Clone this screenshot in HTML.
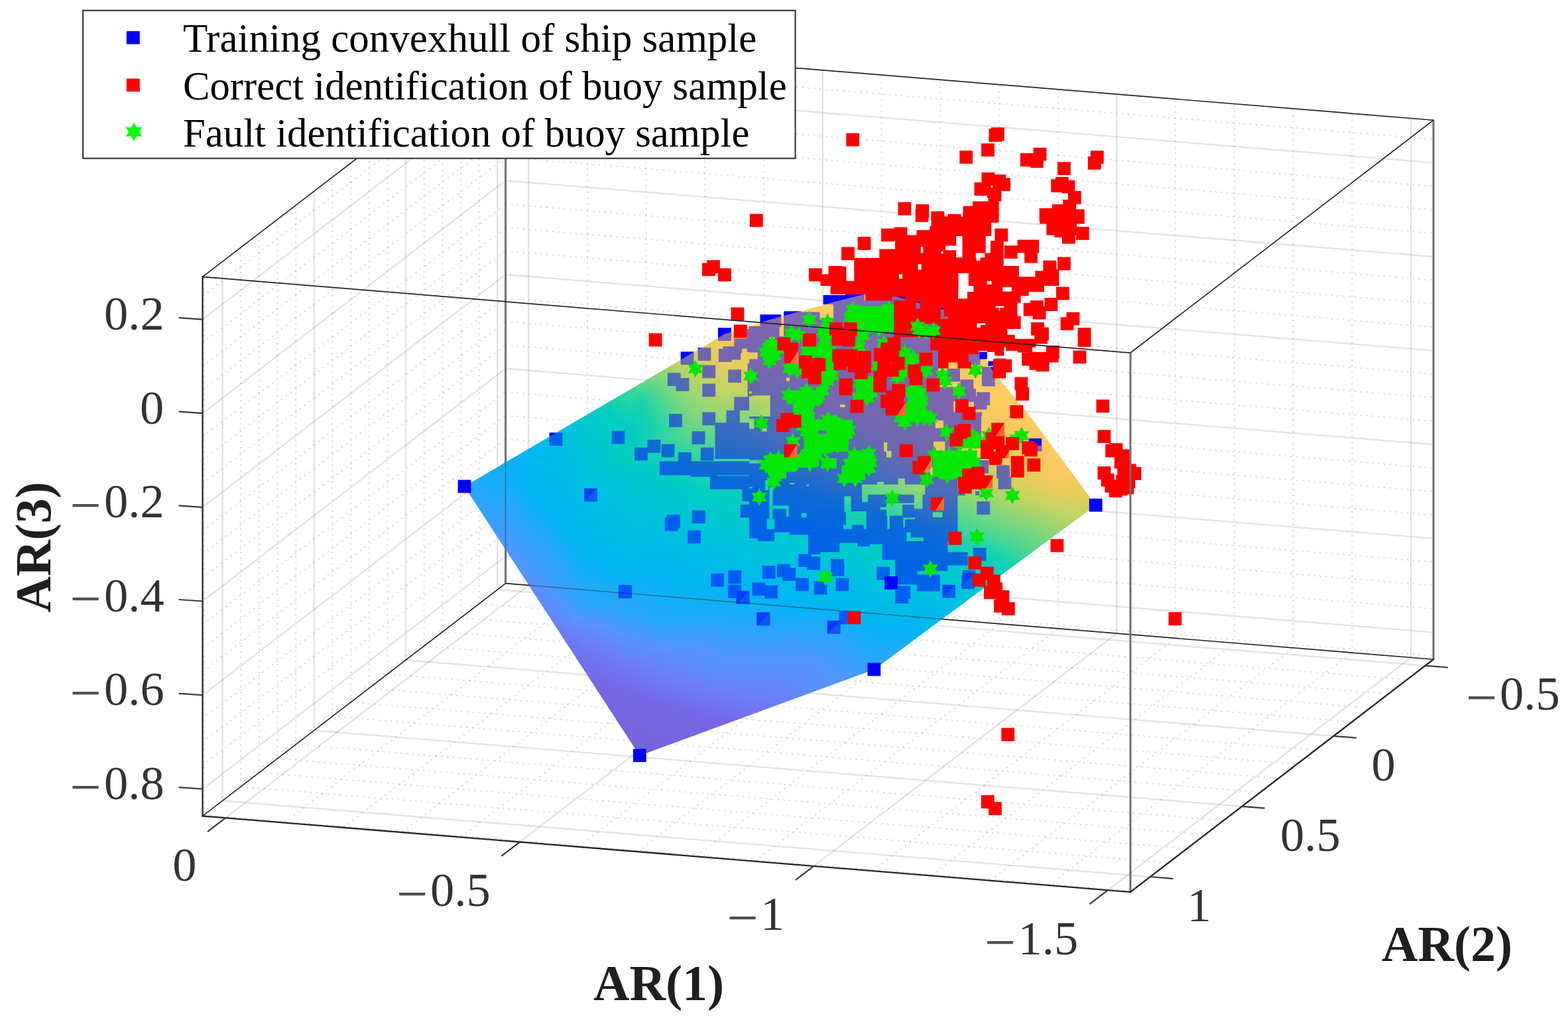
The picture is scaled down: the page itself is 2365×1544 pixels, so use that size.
<!DOCTYPE html>
<html lang="en">
<head>
<meta charset="utf-8">
<title>AR coefficient feature space: ship convex hull vs. buoy samples</title>
<style>
html,body{margin:0;padding:0;background:#fff;}
body{width:2365px;height:1544px;overflow:hidden;font-family:"Liberation Serif",serif;}
svg{display:block;}
.gm{stroke:#8c8c8c;stroke-opacity:.36;stroke-width:2;stroke-dasharray:2 6.8;fill:none}
.gM{stroke:#262626;stroke-opacity:.13;stroke-width:2.4;fill:none}
.bx{stroke:#242424;stroke-width:1.7;fill:none;stroke-linecap:square}
.bv{stroke:#6e6e6e;stroke-width:3;fill:none;stroke-linecap:butt}
.ax{stroke:#262626;stroke-width:2.3;fill:none;stroke-linecap:square}
.tk{stroke:#3a3a3a;stroke-width:2.2;fill:none}
.mb{fill:#0000ff}
.mr{fill:#ff0000}
.mg{fill:#04e604}
.mw{fill:#fff}
text{font-family:"Liberation Serif",serif;fill:#1a1a1a}
.tl{fill:#333}
.al{font-weight:bold;fill:#1f1f1f}
.lg{fill:#000}
</style>
</head>
<body>
<svg width="2365" height="1544" viewBox="0 0 2365 1544" role="img" aria-label="3D scatter of AR(1), AR(2), AR(3) features">
<rect width="2365" height="1544" fill="#fff"/>
<g id="grid-minor">
<line class="gm" x1="2039.3" y1="984.2" x2="2039.3" y2="171.2"/>
<line class="gm" x1="1582.3" y1="1335" x2="2039.3" y2="984.2"/>
<line class="gm" x1="1950.6" y1="976.9" x2="1950.6" y2="163.9"/>
<line class="gm" x1="1493.6" y1="1327.7" x2="1950.6" y2="976.9"/>
<line class="gm" x1="1861.9" y1="969.6" x2="1861.9" y2="156.6"/>
<line class="gm" x1="1404.9" y1="1320.4" x2="1861.9" y2="969.6"/>
<line class="gm" x1="1773.1" y1="962.4" x2="1773.1" y2="149.4"/>
<line class="gm" x1="1316.1" y1="1313.2" x2="1773.1" y2="962.4"/>
<line class="gm" x1="1595.7" y1="947.8" x2="1595.7" y2="134.8"/>
<line class="gm" x1="1138.7" y1="1298.6" x2="1595.7" y2="947.8"/>
<line class="gm" x1="1507" y1="940.6" x2="1507" y2="127.6"/>
<line class="gm" x1="1050" y1="1291.4" x2="1507" y2="940.6"/>
<line class="gm" x1="1418.3" y1="933.3" x2="1418.3" y2="120.3"/>
<line class="gm" x1="961.3" y1="1284.1" x2="1418.3" y2="933.3"/>
<line class="gm" x1="1329.6" y1="926" x2="1329.6" y2="113"/>
<line class="gm" x1="872.6" y1="1276.8" x2="1329.6" y2="926"/>
<line class="gm" x1="1152.2" y1="911.5" x2="1152.2" y2="98.5"/>
<line class="gm" x1="695.2" y1="1262.3" x2="1152.2" y2="911.5"/>
<line class="gm" x1="1063.4" y1="904.2" x2="1063.4" y2="91.2"/>
<line class="gm" x1="606.4" y1="1255" x2="1063.4" y2="904.2"/>
<line class="gm" x1="974.7" y1="897" x2="974.7" y2="84"/>
<line class="gm" x1="517.7" y1="1247.8" x2="974.7" y2="897"/>
<line class="gm" x1="886" y1="889.7" x2="886" y2="76.7"/>
<line class="gm" x1="429" y1="1240.5" x2="886" y2="889.7"/>
<line class="gm" x1="722.6" y1="910.3" x2="722.6" y2="97.3"/>
<line class="gm" x1="722.6" y1="910.3" x2="2122" y2="1024.9"/>
<line class="gm" x1="694.9" y1="931.6" x2="694.9" y2="118.6"/>
<line class="gm" x1="694.9" y1="931.6" x2="2094.3" y2="1046.2"/>
<line class="gm" x1="667.3" y1="952.8" x2="667.3" y2="139.8"/>
<line class="gm" x1="667.3" y1="952.8" x2="2066.7" y2="1067.4"/>
<line class="gm" x1="639.6" y1="974" x2="639.6" y2="161"/>
<line class="gm" x1="639.6" y1="974" x2="2039" y2="1088.6"/>
<line class="gm" x1="584.4" y1="1016.4" x2="584.4" y2="203.4"/>
<line class="gm" x1="584.4" y1="1016.4" x2="1983.8" y2="1131"/>
<line class="gm" x1="556.7" y1="1037.6" x2="556.7" y2="224.6"/>
<line class="gm" x1="556.7" y1="1037.6" x2="1956.1" y2="1152.2"/>
<line class="gm" x1="529.1" y1="1058.9" x2="529.1" y2="245.9"/>
<line class="gm" x1="529.1" y1="1058.9" x2="1928.5" y2="1173.5"/>
<line class="gm" x1="501.4" y1="1080.1" x2="501.4" y2="267.1"/>
<line class="gm" x1="501.4" y1="1080.1" x2="1900.8" y2="1194.7"/>
<line class="gm" x1="446.2" y1="1122.5" x2="446.2" y2="309.5"/>
<line class="gm" x1="446.2" y1="1122.5" x2="1845.6" y2="1237.1"/>
<line class="gm" x1="418.5" y1="1143.7" x2="418.5" y2="330.7"/>
<line class="gm" x1="418.5" y1="1143.7" x2="1817.9" y2="1258.3"/>
<line class="gm" x1="390.9" y1="1164.9" x2="390.9" y2="351.9"/>
<line class="gm" x1="390.9" y1="1164.9" x2="1790.3" y2="1279.5"/>
<line class="gm" x1="363.2" y1="1186.2" x2="363.2" y2="373.2"/>
<line class="gm" x1="363.2" y1="1186.2" x2="1762.6" y2="1300.8"/>
<line class="gm" x1="308" y1="1228.6" x2="308" y2="415.6"/>
<line class="gm" x1="308" y1="1228.6" x2="1707.4" y2="1343.2"/>
<line class="gm" x1="305.6" y1="1225.1" x2="762.6" y2="874.3"/>
<line class="gm" x1="762.6" y1="874.3" x2="2162" y2="988.9"/>
<line class="gm" x1="305.6" y1="1154.3" x2="762.6" y2="803.5"/>
<line class="gm" x1="762.6" y1="803.5" x2="2162" y2="918.1"/>
<line class="gm" x1="305.6" y1="1118.9" x2="762.6" y2="768.1"/>
<line class="gm" x1="762.6" y1="768.1" x2="2162" y2="882.7"/>
<line class="gm" x1="305.6" y1="1083.5" x2="762.6" y2="732.7"/>
<line class="gm" x1="762.6" y1="732.7" x2="2162" y2="847.3"/>
<line class="gm" x1="305.6" y1="1012.7" x2="762.6" y2="661.9"/>
<line class="gm" x1="762.6" y1="661.9" x2="2162" y2="776.5"/>
<line class="gm" x1="305.6" y1="977.3" x2="762.6" y2="626.5"/>
<line class="gm" x1="762.6" y1="626.5" x2="2162" y2="741.1"/>
<line class="gm" x1="305.6" y1="941.9" x2="762.6" y2="591.1"/>
<line class="gm" x1="762.6" y1="591.1" x2="2162" y2="705.7"/>
<line class="gm" x1="305.6" y1="871.1" x2="762.6" y2="520.3"/>
<line class="gm" x1="762.6" y1="520.3" x2="2162" y2="634.9"/>
<line class="gm" x1="305.6" y1="835.7" x2="762.6" y2="484.9"/>
<line class="gm" x1="762.6" y1="484.9" x2="2162" y2="599.5"/>
<line class="gm" x1="305.6" y1="800.2" x2="762.6" y2="449.4"/>
<line class="gm" x1="762.6" y1="449.4" x2="2162" y2="564"/>
<line class="gm" x1="305.6" y1="729.4" x2="762.6" y2="378.6"/>
<line class="gm" x1="762.6" y1="378.6" x2="2162" y2="493.2"/>
<line class="gm" x1="305.6" y1="694" x2="762.6" y2="343.2"/>
<line class="gm" x1="762.6" y1="343.2" x2="2162" y2="457.8"/>
<line class="gm" x1="305.6" y1="658.6" x2="762.6" y2="307.8"/>
<line class="gm" x1="762.6" y1="307.8" x2="2162" y2="422.4"/>
<line class="gm" x1="305.6" y1="587.8" x2="762.6" y2="237"/>
<line class="gm" x1="762.6" y1="237" x2="2162" y2="351.6"/>
<line class="gm" x1="305.6" y1="552.4" x2="762.6" y2="201.6"/>
<line class="gm" x1="762.6" y1="201.6" x2="2162" y2="316.2"/>
<line class="gm" x1="305.6" y1="517" x2="762.6" y2="166.2"/>
<line class="gm" x1="762.6" y1="166.2" x2="2162" y2="280.8"/>
<line class="gm" x1="305.6" y1="446.2" x2="762.6" y2="95.4"/>
<line class="gm" x1="762.6" y1="95.4" x2="2162" y2="210"/>
</g>
<g id="grid-major">
<line class="gM" x1="797.3" y1="882.4" x2="797.3" y2="69.4"/>
<line class="gM" x1="340.3" y1="1233.2" x2="797.3" y2="882.4"/>
<line class="gM" x1="1240.9" y1="918.8" x2="1240.9" y2="105.8"/>
<line class="gM" x1="783.9" y1="1269.6" x2="1240.9" y2="918.8"/>
<line class="gM" x1="1684.4" y1="955.1" x2="1684.4" y2="142.1"/>
<line class="gM" x1="1227.4" y1="1305.9" x2="1684.4" y2="955.1"/>
<line class="gM" x1="2128" y1="991.4" x2="2128" y2="178.4"/>
<line class="gM" x1="1671" y1="1342.2" x2="2128" y2="991.4"/>
<line class="gM" x1="750.2" y1="889.1" x2="750.2" y2="76.1"/>
<line class="gM" x1="750.2" y1="889.1" x2="2149.6" y2="1003.7"/>
<line class="gM" x1="612" y1="995.2" x2="612" y2="182.2"/>
<line class="gM" x1="612" y1="995.2" x2="2011.4" y2="1109.8"/>
<line class="gM" x1="473.8" y1="1101.3" x2="473.8" y2="288.3"/>
<line class="gM" x1="473.8" y1="1101.3" x2="1873.2" y2="1215.9"/>
<line class="gM" x1="335.6" y1="1207.4" x2="335.6" y2="394.4"/>
<line class="gM" x1="335.6" y1="1207.4" x2="1735" y2="1322"/>
<line class="gM" x1="305.6" y1="481.6" x2="762.6" y2="130.8"/>
<line class="gM" x1="762.6" y1="130.8" x2="2162" y2="245.4"/>
<line class="gM" x1="305.6" y1="623.2" x2="762.6" y2="272.4"/>
<line class="gM" x1="762.6" y1="272.4" x2="2162" y2="387"/>
<line class="gM" x1="305.6" y1="764.8" x2="762.6" y2="414"/>
<line class="gM" x1="762.6" y1="414" x2="2162" y2="528.6"/>
<line class="gM" x1="305.6" y1="906.5" x2="762.6" y2="555.7"/>
<line class="gM" x1="762.6" y1="555.7" x2="2162" y2="670.3"/>
<line class="gM" x1="305.6" y1="1048.1" x2="762.6" y2="697.3"/>
<line class="gM" x1="762.6" y1="697.3" x2="2162" y2="811.9"/>
<line class="gM" x1="305.6" y1="1189.7" x2="762.6" y2="838.9"/>
<line class="gM" x1="762.6" y1="838.9" x2="2162" y2="953.5"/>
</g>
<g id="box-back">
<line class="bx" x1="305.6" y1="1230.4" x2="762.6" y2="879.6"/>
<line class="bx" x1="762.6" y1="879.6" x2="2162" y2="994.2"/>
<line class="bx" x1="762.6" y1="66.6" x2="2162" y2="181.2"/>
<line class="bx" x1="305.6" y1="417.4" x2="762.6" y2="66.6"/>
<line class="bv" x1="762.6" y1="879.6" x2="762.6" y2="66.6"/>
<line class="bv" x1="2162" y1="994.2" x2="2162" y2="181.2"/>
</g>
<g id="ship-inside" class="mb" fill-rule="evenodd">
<path d="M1052.6 544.1L1072.4 544.1L1072.4 524.3L1052.6 524.3zM1026.7 550L1046.5 550L1046.5 530.2L1026.7 530.2zM1059.3 570.3L1079.1 570.3L1079.1 550.5L1059.3 550.5zM1006.9 582.1L1019.6 582.1L1019.6 589.7L1039.4 589.7L1039.4 569.9L1026.7 569.9L1026.7 562.3L1006.9 562.3zM1009.1 643.9L1028.9 643.9L1028.9 624.1L1009.1 624.1zM922.5 649.7L922.5 669.5L942.3 669.5L942.3 649.7zM1063.4 670.1L1063.4 650.3L1043.6 650.3L1043.6 670.1zM828.6 652.3L828.6 672.1L848.4 672.1L848.4 652.3zM957 694.6L976.8 694.6L976.8 682.8L996.3 682.8L996.3 663L976.5 663L976.5 674.8L957 674.8zM1017.4 669.7L997.6 669.7L997.6 689.5L1017.4 689.5zM1056.8 674.8L1056.8 694.6L1076.6 694.6L1076.6 674.8zM881.1 736.6L881.1 756.4L900.9 756.4L900.9 736.6zM1043.6 789L1063.9 789.3L1063.9 769.5L1043.6 769.2zM1006.1 776L1006.1 777.4L1004.7 777.4L1004.7 781L1002.7 781L1002.7 800.8L1022.5 800.8L1022.5 797.2L1024.5 797.2L1024.5 795.8L1025.9 795.8L1025.9 776zM1057.1 819.4L1057.2 799.6L1037.4 799.6L1037.3 819.5zM953.1 882.5L952.7 882.5L952.7 882.1L932.9 882.1L932.9 901.9L933.3 901.9L933.3 902.3L953.1 902.3zM1102.8 514L1102.8 494.2L1083 494.2L1083 514zM1118 557.3L1098.2 557.3L1098.2 577.1L1118 577.1zM1059.3 578.4L1059.3 598.2L1079.1 598.2L1079.1 578.4zM1070.9 719.1L1070.9 737.7L1119.4 737.7L1119.4 756L1130 756L1130 760.7L1116.8 760.7L1116.8 780.5L1130 780.5L1130 811.7L1142.7 811.7L1142.7 816L1168.1 816L1168.1 802.8L1190.9 802.8L1190.9 806.6L1218.9 806.6L1218.9 835.2L1203.9 835.2L1203.9 855L1217.5 855L1217.5 859.2L1237.3 859.2L1237.3 839.4L1223.7 839.4L1223.7 835.8L1237.5 835.8L1237.5 832.4L1266.3 832.4L1266.3 818.8L1293.3 818.8L1293.3 823.9L1311.9 823.9L1311.9 820.5L1330.5 820.5L1330.5 844.2L1350 844.2L1350 881.4L1383 881.4L1383 891.6L1417.7 891.6L1417.7 866.2L1383.8 866.2L1383.8 861.1L1429.5 861.1L1429.5 852.4L1459.7 852.4L1459.7 832.6L1429.5 832.6L1429.5 816L1444.4 816L1444.4 747L1455.9 747L1455.9 740.6L1444.4 740.6L1444.4 675.9L1480 675.9L1480 628L1481.2 628L1481.2 621.5L1438.1 621.5L1438.1 605L1452.3 605L1452.3 606.1L1468.8 606.1L1468.8 617.5L1488.6 617.5L1488.6 611.1L1493.1 611.1L1493.1 591.3L1473.3 591.3L1473.3 597.7L1472.1 597.7L1472.1 586.3L1468.3 586.3L1468.3 572.3L1448.5 572.3L1448.5 592.1L1452.3 592.3L1438.1 592.3L1438.1 583.5L1415 583.5L1415 452.7L1364.9 452.7L1364.9 447L1345.8 447L1345.8 452.7L1303.9 452.7L1303.9 443.2L1274.7 443.2L1274.7 445.1L1241.7 445.1L1241.7 459L1257 459L1257 481.9L1236.6 481.9L1236.6 470.5L1208.7 470.5L1208.7 469.2L1182.7 469.2L1182.7 470.5L1182.1 470.5L1182.1 507.3L1175.7 507.3L1175.7 493.3L1178.2 493.3L1178.2 474.3L1146.5 474.3L1146.5 492.1L1130 492.1L1130 496.1L1126.7 496.1L1126.7 510.5L1107.3 510.5L1107.3 522.3L1090.4 522.3L1090.4 526L1083.9 526L1083.9 545.8L1103.7 545.8L1103.7 542.4L1117.2 542.4L1117.2 532.5L1119.1 532.5L1119.1 525.7L1126.7 525.7L1126.7 530.8L1130 530.8L1130 531.4L1142.7 531.4L1142.7 541.6L1130 541.6L1130 547.7L1127.6 547.7L1127.6 598.4L1107.3 598.4L1107.3 618.7L1095.5 618.7L1095.5 637.3L1079.1 637.3L1079.1 621.5L1059.3 621.5L1059.3 641.3L1078.5 641.3L1078.5 692L1130 692L1130 693.6L1150.3 693.6L1150.3 698.7L1130 698.7L1130 695.4L1042.8 695.4L1042.8 682.1L1023 682.1L1023 695.4L994.8 695.4L994.8 716.5L1041.3 716.5L1041.3 719.1zM1406.8 780L1406.8 772.3L1421.6 772.3L1421.6 780zM1402.9 719L1402.9 703.8L1415 703.8L1415 719zM1408 683.5L1408 665.7L1425.4 665.7L1425.4 683.5zM1410.6 645.4L1410.6 632.7L1415 632.7L1415 634L1422.9 634L1422.9 645.4zM1135.1 734.3L1135.1 736.2L1130 736.2L1130 734.3zM1130 716.5L1130 717.4L1081.9 717.4L1081.9 716.5zM1161.7 628L1130 628L1130 631.4L1137.6 631.4L1137.6 646.7L1130 646.7L1130 637.3L1115.8 637.3L1115.8 618.7L1130 618.7L1130 597.4L1135.1 597.4L1135.1 596.2L1161.7 596.2zM1133.8 589.8L1133.8 593.6L1130 593.6L1130 589.8zM1168.1 508.6L1168.1 512.4L1160.5 512.4L1160.5 508.6zM1190.9 569.5L1190.9 574.6L1185.9 574.6L1185.9 569.5zM1274.7 610.1L1274.7 613.9L1267.1 613.9L1267.1 610.1zM1392.8 816L1367.4 816L1367.4 802.8L1373.7 802.8L1373.7 810.4L1392.8 810.4zM1149 650.5L1149 645.4L1156.7 645.4L1156.7 650.5zM1190.9 730.4L1190.9 727.9L1198.6 727.9L1198.6 730.4zM1154.1 739.3L1154.1 724.1L1159.2 724.1L1159.2 739.3zM1216.3 733L1216.3 730.4L1220.1 730.4L1220.1 733zM1272.2 797.7L1272.2 791.4L1276 791.4L1276 772.3L1273.5 772.3L1273.5 748.2L1283.6 748.2L1283.6 771.1L1306.5 771.1L1306.5 797.7L1302.7 797.7L1302.7 791.4L1284.9 791.4L1284.9 797.7zM1165.5 734.3L1165.5 762.2L1189.7 762.2L1189.7 778.7L1185.9 778.7L1185.9 767.3L1165.5 767.3L1165.5 782.5L1168.1 782.5L1168.1 797.7L1156.7 797.7L1156.7 782.5L1160.5 782.5L1160.5 734.3zM1208.7 780.6L1208.7 773.6L1216.3 773.6L1216.3 780.6zM1333.1 680.9L1333.1 667L1338.2 667L1338.2 679.7L1344.5 679.7L1344.5 689.8L1336.9 689.8L1336.9 680.9zM1361.1 777.4L1342 777.4L1342 797.7L1338.2 797.7L1338.2 777.4L1336.9 777.4L1336.9 768.5L1328 768.5L1328 764.7L1336.9 764.7L1336.9 758.4L1378.8 758.4L1378.8 745.7L1309 745.7L1309 757.1L1300.1 757.1L1300.1 730.4L1323 730.4L1323 726.6L1333.1 726.6L1333.1 730.4L1354.7 730.4L1354.7 721.6L1364.9 721.6L1364.9 730.4L1395.3 730.4L1395.3 745.7L1391.5 745.7L1391.5 767.3L1378.8 767.3L1378.8 760.9L1361.1 760.9zM1364.9 795.2L1362.3 795.2L1362.3 780.6L1380.1 780.6L1380.1 783.1L1364.9 783.1zM1253.8 868.5L1273.6 868.5L1273.6 848.7L1272.8 848.7L1272.8 842.8L1253 842.8L1253 862.6L1253.8 862.6zM1169.6 872.7L1169.6 852.9L1149.8 852.9L1149.8 872.7zM1342.1 854.6L1322.3 854.6L1322.3 874.4L1342.1 874.4zM1098.4 859.8L1098.2 880.3L1118 880.3L1118.2 859.8zM1180.3 870.2L1180.3 876.1L1200.1 876.1L1200.1 891.3L1219.9 891.3L1219.9 871.5L1200.1 871.5L1200.1 856.3L1191.6 856.3L1191.6 850.4L1171.8 850.4L1171.8 870.2zM1072 864.8L1072 884.8L1091.8 884.8L1091.8 864.8zM1260.6 891.3L1280.4 891.3L1280.4 871.5L1260.6 871.5zM1227.6 896.4L1247.4 896.4L1247.4 876.6L1227.6 876.6zM1173 882.5L1154.4 882.5L1154.4 878.3L1134.6 878.3L1134.6 898.1L1153.2 898.1L1153.2 902.3L1173 902.3zM1130.7 891L1118.2 890.7L1118 881.7L1098.2 881.7L1098.2 901.5L1098.4 901.9L1110.4 901.9L1110.4 910.5L1110.9 910.8L1130.7 910.8z"/>
<path d="M1161.5 943.4L1161.5 923.6L1161.1 923.3L1141.3 923.3L1141.3 943.1L1141.7 943.4zM1247.9 935.8L1247.7 955.8L1267.5 955.8L1267.7 941.2L1285.5 941.2L1285.5 921.4L1265.7 921.4L1265.7 935.8zM1423.5 477.5L1423.5 464.1L1419 464.1L1419 480.6L1429.8 480.6L1429.8 477.5zM1458.7 550.2L1478.5 550.2L1478.5 530.4L1458.7 530.4zM1428.2 555.8L1428.2 575.6L1448 575.6L1448 555.8zM1500.7 553.2L1480.9 553.2L1480.9 582.6L1500.7 582.6zM1551.6 680.7L1571.4 680.7L1571.4 660.9L1551.6 660.9zM1471.3 713.7L1491.1 713.7L1491.1 693.9L1471.3 693.9zM1522.9 718L1522.9 701.5L1503.1 701.5L1503.1 721.3L1505.6 721.3L1505.6 737.8L1525.4 737.8L1525.4 718zM1471.1 747L1477.4 747L1477.4 740.6L1471.1 740.6zM1493.1 775.9L1493.1 756.1L1473.3 756.1L1473.3 775.9zM1467.8 825.9L1467.8 845.7L1487.6 845.7L1487.6 825.9zM1450 868.1L1450 887.9L1469.8 887.9L1469.8 879.5L1471.5 879.5L1471.5 859.7L1451.7 859.7L1451.7 868.1zM1441.1 901.5L1441.1 881.7L1421.3 881.7L1421.3 901.5zM1350.2 909.9L1370 909.9L1370 903.2L1373.4 903.2L1373.4 883.4L1353.6 883.4L1353.6 890.1L1350.2 890.1z"/>
</g>
<defs><linearGradient id="h0" gradientUnits="userSpaceOnUse" x1="902.4" y1="1114.7" x2="1290.6" y2="126.2"><stop offset="0" stop-color="#7562d7"/><stop offset="0.08" stop-color="#7668e8"/></linearGradient><linearGradient id="h1" gradientUnits="userSpaceOnUse" x1="726.1" y1="917.3" x2="975.8" y2="628.2"><stop offset="0.08" stop-color="#7668e8"/><stop offset="0.15" stop-color="#6982fa"/><stop offset="0.22" stop-color="#5596ff"/><stop offset="0.28" stop-color="#2da5ff"/><stop offset="0.34" stop-color="#00b6f2"/></linearGradient><linearGradient id="h2" gradientUnits="userSpaceOnUse" x1="1163" y1="1068.8" x2="1364.5" y2="452.9"><stop offset="0.45" stop-color="#00cdc3"/><stop offset="0.5" stop-color="#1ed4aa"/><stop offset="0.55" stop-color="#5ad78c"/><stop offset="0.6" stop-color="#8cd778"/><stop offset="0.65" stop-color="#bed464"/><stop offset="0.7" stop-color="#e4cd5a"/></linearGradient><linearGradient id="h3" gradientUnits="userSpaceOnUse" x1="1086.2" y1="1039.2" x2="1269.7" y2="427.6"><stop offset="0.45" stop-color="#00cdc3"/><stop offset="0.5" stop-color="#1ed4aa"/><stop offset="0.55" stop-color="#5ad78c"/><stop offset="0.6" stop-color="#8cd778"/><stop offset="0.65" stop-color="#bed464"/><stop offset="0.7" stop-color="#e4cd5a"/></linearGradient><linearGradient id="h4" gradientUnits="userSpaceOnUse" x1="710.6" y1="1191.2" x2="1312.1" y2="179.8"><stop offset="0.22" stop-color="#5596ff"/><stop offset="0.28" stop-color="#2da5ff"/><stop offset="0.34" stop-color="#00b6f2"/><stop offset="0.4" stop-color="#00c3dc"/></linearGradient><linearGradient id="h5" gradientUnits="userSpaceOnUse" x1="657.1" y1="974.2" x2="1300.2" y2="524.4"><stop offset="0.15" stop-color="#6982fa"/><stop offset="0.22" stop-color="#5596ff"/><stop offset="0.28" stop-color="#2da5ff"/><stop offset="0.34" stop-color="#00b6f2"/><stop offset="0.4" stop-color="#00c3dc"/></linearGradient><linearGradient id="h6" gradientUnits="userSpaceOnUse" x1="1002.9" y1="1235.5" x2="1230.2" y2="190.9"><stop offset="0.28" stop-color="#2da5ff"/><stop offset="0.34" stop-color="#00b6f2"/><stop offset="0.4" stop-color="#00c3dc"/><stop offset="0.45" stop-color="#00cdc3"/></linearGradient><linearGradient id="h7" gradientUnits="userSpaceOnUse" x1="1085.6" y1="1254.2" x2="1332.9" y2="212.2"><stop offset="0.28" stop-color="#2da5ff"/><stop offset="0.34" stop-color="#00b6f2"/><stop offset="0.4" stop-color="#00c3dc"/><stop offset="0.45" stop-color="#00cdc3"/></linearGradient><linearGradient id="h8" gradientUnits="userSpaceOnUse" x1="1135.1" y1="1147.7" x2="1566.6" y2="476.5"><stop offset="0.15" stop-color="#6982fa"/><stop offset="0.22" stop-color="#5596ff"/><stop offset="0.28" stop-color="#2da5ff"/><stop offset="0.34" stop-color="#00b6f2"/><stop offset="0.4" stop-color="#00c3dc"/></linearGradient><linearGradient id="h9" gradientUnits="userSpaceOnUse" x1="1268.8" y1="1162.9" x2="1320.6" y2="438.9"><stop offset="0.15" stop-color="#6982fa"/><stop offset="0.22" stop-color="#5596ff"/><stop offset="0.28" stop-color="#2da5ff"/><stop offset="0.34" stop-color="#00b6f2"/><stop offset="0.4" stop-color="#00c3dc"/></linearGradient><linearGradient id="h10" gradientUnits="userSpaceOnUse" x1="1222.7" y1="1066.8" x2="1394.1" y2="479.8"><stop offset="0.45" stop-color="#00cdc3"/><stop offset="0.5" stop-color="#1ed4aa"/><stop offset="0.55" stop-color="#5ad78c"/><stop offset="0.6" stop-color="#8cd778"/></linearGradient><linearGradient id="h11" gradientUnits="userSpaceOnUse" x1="1157.7" y1="1237.2" x2="1509.9" y2="312.4"><stop offset="0.34" stop-color="#00b6f2"/><stop offset="0.4" stop-color="#00c3dc"/><stop offset="0.45" stop-color="#00cdc3"/><stop offset="0.5" stop-color="#1ed4aa"/><stop offset="0.55" stop-color="#5ad78c"/></linearGradient><linearGradient id="h12" gradientUnits="userSpaceOnUse" x1="1082.7" y1="1226.3" x2="1337.1" y2="252.4"><stop offset="0.34" stop-color="#00b6f2"/><stop offset="0.4" stop-color="#00c3dc"/><stop offset="0.45" stop-color="#00cdc3"/><stop offset="0.5" stop-color="#1ed4aa"/></linearGradient><linearGradient id="h13" gradientUnits="userSpaceOnUse" x1="1221.5" y1="1066.7" x2="1400.9" y2="481.5"><stop offset="0.45" stop-color="#00cdc3"/><stop offset="0.5" stop-color="#1ed4aa"/><stop offset="0.55" stop-color="#5ad78c"/><stop offset="0.6" stop-color="#8cd778"/></linearGradient><linearGradient id="h14" gradientUnits="userSpaceOnUse" x1="1196.8" y1="1239.8" x2="1422.2" y2="292.3"><stop offset="0.34" stop-color="#00b6f2"/><stop offset="0.4" stop-color="#00c3dc"/><stop offset="0.45" stop-color="#00cdc3"/><stop offset="0.5" stop-color="#1ed4aa"/><stop offset="0.55" stop-color="#5ad78c"/></linearGradient><linearGradient id="h15" gradientUnits="userSpaceOnUse" x1="1021.8" y1="1105.4" x2="1309.2" y2="387"><stop offset="0.6" stop-color="#8cd778"/><stop offset="0.65" stop-color="#bed464"/><stop offset="0.7" stop-color="#e4cd5a"/><stop offset="0.75" stop-color="#fac85f"/><stop offset="0.8" stop-color="#fed064"/></linearGradient><linearGradient id="h16" gradientUnits="userSpaceOnUse" x1="638.2" y1="1045.3" x2="1062.5" y2="59.9"><stop offset="0.15" stop-color="#6982fa"/><stop offset="0.22" stop-color="#5596ff"/><stop offset="0.28" stop-color="#2da5ff"/><stop offset="0.34" stop-color="#00b6f2"/></linearGradient><linearGradient id="h17" gradientUnits="userSpaceOnUse" x1="594.3" y1="891" x2="1155.9" y2="388"><stop offset="0.15" stop-color="#6982fa"/><stop offset="0.22" stop-color="#5596ff"/><stop offset="0.28" stop-color="#2da5ff"/><stop offset="0.34" stop-color="#00b6f2"/><stop offset="0.4" stop-color="#00c3dc"/></linearGradient><linearGradient id="h18" gradientUnits="userSpaceOnUse" x1="440.4" y1="1254.1" x2="1711.8" y2="-7.1"><stop offset="0.28" stop-color="#2da5ff"/><stop offset="0.34" stop-color="#00b6f2"/><stop offset="0.4" stop-color="#00c3dc"/></linearGradient><linearGradient id="h19" gradientUnits="userSpaceOnUse" x1="361.9" y1="1006.6" x2="1722.7" y2="278.8"><stop offset="0.28" stop-color="#2da5ff"/><stop offset="0.34" stop-color="#00b6f2"/><stop offset="0.4" stop-color="#00c3dc"/></linearGradient><linearGradient id="h20" gradientUnits="userSpaceOnUse" x1="394" y1="991.5" x2="1581.5" y2="174.3"><stop offset="0.28" stop-color="#2da5ff"/><stop offset="0.34" stop-color="#00b6f2"/><stop offset="0.4" stop-color="#00c3dc"/></linearGradient><linearGradient id="h21" gradientUnits="userSpaceOnUse" x1="1024.7" y1="1248.1" x2="1239.4" y2="178.7"><stop offset="0.22" stop-color="#5596ff"/><stop offset="0.28" stop-color="#2da5ff"/><stop offset="0.34" stop-color="#00b6f2"/><stop offset="0.4" stop-color="#00c3dc"/></linearGradient><linearGradient id="h22" gradientUnits="userSpaceOnUse" x1="950.6" y1="1135.3" x2="1240.4" y2="80.3"><stop offset="0" stop-color="#7562d7"/><stop offset="0.08" stop-color="#7668e8"/></linearGradient><linearGradient id="h23" gradientUnits="userSpaceOnUse" x1="888.8" y1="1097.8" x2="1267.6" y2="329.9"><stop offset="0" stop-color="#7562d7"/><stop offset="0.08" stop-color="#7668e8"/><stop offset="0.15" stop-color="#6982fa"/></linearGradient><linearGradient id="h24" gradientUnits="userSpaceOnUse" x1="907.8" y1="1107.6" x2="1176.7" y2="276"><stop offset="0" stop-color="#7562d7"/><stop offset="0.08" stop-color="#7668e8"/><stop offset="0.15" stop-color="#6982fa"/></linearGradient><linearGradient id="h25" gradientUnits="userSpaceOnUse" x1="895" y1="1088.6" x2="1225.6" y2="391.6"><stop offset="0" stop-color="#7562d7"/><stop offset="0.08" stop-color="#7668e8"/><stop offset="0.15" stop-color="#6982fa"/><stop offset="0.22" stop-color="#5596ff"/></linearGradient><linearGradient id="h26" gradientUnits="userSpaceOnUse" x1="1098.3" y1="1189" x2="1791.5" y2="414.7"><stop offset="0.15" stop-color="#6982fa"/><stop offset="0.22" stop-color="#5596ff"/><stop offset="0.28" stop-color="#2da5ff"/><stop offset="0.34" stop-color="#00b6f2"/></linearGradient><linearGradient id="h27" gradientUnits="userSpaceOnUse" x1="1077.5" y1="1170.3" x2="1770.7" y2="396.1"><stop offset="0.08" stop-color="#7668e8"/><stop offset="0.15" stop-color="#6982fa"/><stop offset="0.22" stop-color="#5596ff"/><stop offset="0.28" stop-color="#2da5ff"/></linearGradient><linearGradient id="h28" gradientUnits="userSpaceOnUse" x1="1195.8" y1="1267.6" x2="1445.1" y2="260.6"><stop offset="0.22" stop-color="#5596ff"/><stop offset="0.28" stop-color="#2da5ff"/><stop offset="0.34" stop-color="#00b6f2"/><stop offset="0.4" stop-color="#00c3dc"/></linearGradient><linearGradient id="h29" gradientUnits="userSpaceOnUse" x1="1370.8" y1="1269.3" x2="1279.9" y2="296.9"><stop offset="0.22" stop-color="#5596ff"/><stop offset="0.28" stop-color="#2da5ff"/><stop offset="0.34" stop-color="#00b6f2"/><stop offset="0.4" stop-color="#00c3dc"/></linearGradient><linearGradient id="h30" gradientUnits="userSpaceOnUse" x1="1249.2" y1="1244.9" x2="1505.7" y2="342.3"><stop offset="0.28" stop-color="#2da5ff"/><stop offset="0.34" stop-color="#00b6f2"/><stop offset="0.4" stop-color="#00c3dc"/><stop offset="0.45" stop-color="#00cdc3"/><stop offset="0.5" stop-color="#1ed4aa"/><stop offset="0.55" stop-color="#5ad78c"/></linearGradient><linearGradient id="h31" gradientUnits="userSpaceOnUse" x1="1332" y1="1166.1" x2="1556.6" y2="462.1"><stop offset="0.34" stop-color="#00b6f2"/><stop offset="0.4" stop-color="#00c3dc"/><stop offset="0.45" stop-color="#00cdc3"/><stop offset="0.5" stop-color="#1ed4aa"/><stop offset="0.55" stop-color="#5ad78c"/></linearGradient><linearGradient id="h32" gradientUnits="userSpaceOnUse" x1="1434.3" y1="1230.5" x2="1436.2" y2="369.6"><stop offset="0.28" stop-color="#2da5ff"/><stop offset="0.34" stop-color="#00b6f2"/><stop offset="0.4" stop-color="#00c3dc"/><stop offset="0.45" stop-color="#00cdc3"/><stop offset="0.5" stop-color="#1ed4aa"/><stop offset="0.55" stop-color="#5ad78c"/></linearGradient><linearGradient id="h33" gradientUnits="userSpaceOnUse" x1="1339" y1="1226.5" x2="1339" y2="376.5"><stop offset="0.28" stop-color="#2da5ff"/><stop offset="0.34" stop-color="#00b6f2"/><stop offset="0.4" stop-color="#00c3dc"/></linearGradient><linearGradient id="h34" gradientUnits="userSpaceOnUse" x1="1395.4" y1="1186.8" x2="1502.4" y2="444.1"><stop offset="0.34" stop-color="#00b6f2"/><stop offset="0.4" stop-color="#00c3dc"/><stop offset="0.45" stop-color="#00cdc3"/><stop offset="0.5" stop-color="#1ed4aa"/><stop offset="0.55" stop-color="#5ad78c"/></linearGradient><linearGradient id="h35" gradientUnits="userSpaceOnUse" x1="1341.2" y1="1058.3" x2="1548.3" y2="557.8"><stop offset="0.4" stop-color="#00c3dc"/><stop offset="0.45" stop-color="#00cdc3"/><stop offset="0.5" stop-color="#1ed4aa"/><stop offset="0.55" stop-color="#5ad78c"/></linearGradient><linearGradient id="h36" gradientUnits="userSpaceOnUse" x1="1534.6" y1="1185.9" x2="1640.5" y2="555.5"><stop offset="0.55" stop-color="#5ad78c"/><stop offset="0.6" stop-color="#8cd778"/><stop offset="0.65" stop-color="#bed464"/><stop offset="0.7" stop-color="#e4cd5a"/></linearGradient><linearGradient id="h37" gradientUnits="userSpaceOnUse" x1="1418.7" y1="1119.2" x2="1693.2" y2="587"><stop offset="0.55" stop-color="#5ad78c"/><stop offset="0.6" stop-color="#8cd778"/><stop offset="0.65" stop-color="#bed464"/><stop offset="0.7" stop-color="#e4cd5a"/></linearGradient><linearGradient id="h38" gradientUnits="userSpaceOnUse" x1="1491.6" y1="1111.1" x2="1638.5" y2="585.5"><stop offset="0.55" stop-color="#5ad78c"/><stop offset="0.6" stop-color="#8cd778"/><stop offset="0.65" stop-color="#bed464"/><stop offset="0.7" stop-color="#e4cd5a"/><stop offset="0.75" stop-color="#fac85f"/><stop offset="0.8" stop-color="#fed064"/></linearGradient><linearGradient id="h39" gradientUnits="userSpaceOnUse" x1="1206.7" y1="1387.7" x2="1326.3" y2="300.9"><stop offset="0.65" stop-color="#bed464"/><stop offset="0.7" stop-color="#e4cd5a"/><stop offset="0.75" stop-color="#fac85f"/><stop offset="0.8" stop-color="#fed064"/><stop offset="1" stop-color="#fed764"/></linearGradient><linearGradient id="h40" gradientUnits="userSpaceOnUse" x1="1015.3" y1="1329.7" x2="1264.9" y2="289.6"><stop offset="0.65" stop-color="#bed464"/><stop offset="0.7" stop-color="#e4cd5a"/><stop offset="0.75" stop-color="#fac85f"/><stop offset="0.8" stop-color="#fed064"/></linearGradient><linearGradient id="h41" gradientUnits="userSpaceOnUse" x1="-60" y1="1605.5" x2="1605.8" y2="150.4"><stop offset="0.7" stop-color="#e4cd5a"/><stop offset="0.75" stop-color="#fac85f"/><stop offset="0.8" stop-color="#fed064"/><stop offset="1" stop-color="#fed764"/></linearGradient><linearGradient id="h42" gradientUnits="userSpaceOnUse" x1="-566.9" y1="2899.5" x2="1826.5" y2="-125.5"><stop offset="0.75" stop-color="#fac85f"/><stop offset="0.8" stop-color="#fed064"/><stop offset="1" stop-color="#fed764"/></linearGradient><linearGradient id="h43" gradientUnits="userSpaceOnUse" x1="-279.2" y1="6310.1" x2="1754.2" y2="-1019.4"><stop offset="0.75" stop-color="#fac85f"/><stop offset="0.8" stop-color="#fed064"/><stop offset="1" stop-color="#fed764"/></linearGradient><linearGradient id="h44" gradientUnits="userSpaceOnUse" x1="1132.1" y1="4281.1" x2="1401.4" y2="-512.2"><stop offset="0.75" stop-color="#fac85f"/><stop offset="0.8" stop-color="#fed064"/><stop offset="1" stop-color="#fed764"/></linearGradient><linearGradient id="h45" gradientUnits="userSpaceOnUse" x1="-831" y1="4015.7" x2="1901.1" y2="-440.3"><stop offset="0.75" stop-color="#fac85f"/><stop offset="0.8" stop-color="#fed064"/><stop offset="1" stop-color="#fed764"/></linearGradient><linearGradient id="h46" gradientUnits="userSpaceOnUse" x1="2244.4" y1="5794.2" x2="1220.1" y2="-863.6"><stop offset="0.75" stop-color="#fac85f"/><stop offset="0.8" stop-color="#fed064"/><stop offset="1" stop-color="#fed764"/></linearGradient><linearGradient id="h47" gradientUnits="userSpaceOnUse" x1="1194" y1="1032" x2="1460.7" y2="529"><stop offset="0.5" stop-color="#1ed4aa"/><stop offset="0.55" stop-color="#5ad78c"/><stop offset="0.6" stop-color="#8cd778"/><stop offset="0.65" stop-color="#bed464"/><stop offset="0.7" stop-color="#e4cd5a"/></linearGradient><linearGradient id="h48" gradientUnits="userSpaceOnUse" x1="1154.1" y1="1328.9" x2="1531.1" y2="396.2"><stop offset="0.6" stop-color="#8cd778"/><stop offset="0.65" stop-color="#bed464"/><stop offset="0.7" stop-color="#e4cd5a"/><stop offset="0.75" stop-color="#fac85f"/></linearGradient><linearGradient id="h49" gradientUnits="userSpaceOnUse" x1="1223.9" y1="1017.5" x2="1399" y2="520.2"><stop offset="0.45" stop-color="#00cdc3"/><stop offset="0.5" stop-color="#1ed4aa"/><stop offset="0.55" stop-color="#5ad78c"/><stop offset="0.6" stop-color="#8cd778"/><stop offset="0.65" stop-color="#bed464"/><stop offset="0.7" stop-color="#e4cd5a"/></linearGradient><linearGradient id="h50" gradientUnits="userSpaceOnUse" x1="842.3" y1="1430.5" x2="1548.3" y2="303.3"><stop offset="0.65" stop-color="#bed464"/><stop offset="0.7" stop-color="#e4cd5a"/><stop offset="0.75" stop-color="#fac85f"/><stop offset="0.8" stop-color="#fed064"/><stop offset="1" stop-color="#fed764"/></linearGradient><linearGradient id="h51" gradientUnits="userSpaceOnUse" x1="1093.3" y1="1403.3" x2="1542.9" y2="358.2"><stop offset="0.65" stop-color="#bed464"/><stop offset="0.7" stop-color="#e4cd5a"/><stop offset="0.75" stop-color="#fac85f"/><stop offset="0.8" stop-color="#fed064"/></linearGradient><linearGradient id="h52" gradientUnits="userSpaceOnUse" x1="1772.4" y1="2441.5" x2="1399.7" y2="19.3"><stop offset="0.7" stop-color="#e4cd5a"/><stop offset="0.75" stop-color="#fac85f"/><stop offset="0.8" stop-color="#fed064"/><stop offset="1" stop-color="#fed764"/></linearGradient><linearGradient id="h53" gradientUnits="userSpaceOnUse" x1="-11.2" y1="750.9" x2="2433.5" y2="567.1"><stop offset="0.22" stop-color="#5596ff"/><stop offset="0.28" stop-color="#2da5ff"/><stop offset="0.34" stop-color="#00b6f2"/></linearGradient><linearGradient id="h54" gradientUnits="userSpaceOnUse" x1="404.6" y1="757.8" x2="1559" y2="671"><stop offset="0.28" stop-color="#2da5ff"/><stop offset="0.34" stop-color="#00b6f2"/><stop offset="0.4" stop-color="#00c3dc"/></linearGradient><linearGradient id="h55" gradientUnits="userSpaceOnUse" x1="879.8" y1="1225.6" x2="1208.1" y2="137.9"><stop offset="0.34" stop-color="#00b6f2"/><stop offset="0.4" stop-color="#00c3dc"/><stop offset="0.45" stop-color="#00cdc3"/><stop offset="0.5" stop-color="#1ed4aa"/></linearGradient><linearGradient id="h56" gradientUnits="userSpaceOnUse" x1="990.8" y1="1127.5" x2="1195.6" y2="291.6"><stop offset="0.4" stop-color="#00c3dc"/><stop offset="0.45" stop-color="#00cdc3"/><stop offset="0.5" stop-color="#1ed4aa"/><stop offset="0.55" stop-color="#5ad78c"/><stop offset="0.6" stop-color="#8cd778"/></linearGradient><linearGradient id="h57" gradientUnits="userSpaceOnUse" x1="1064.3" y1="1202.6" x2="1363.5" y2="286.5"><stop offset="0.34" stop-color="#00b6f2"/><stop offset="0.4" stop-color="#00c3dc"/><stop offset="0.45" stop-color="#00cdc3"/><stop offset="0.5" stop-color="#1ed4aa"/><stop offset="0.55" stop-color="#5ad78c"/></linearGradient><linearGradient id="h58" gradientUnits="userSpaceOnUse" x1="958.6" y1="1250.8" x2="1233.4" y2="146.9"><stop offset="0.34" stop-color="#00b6f2"/><stop offset="0.4" stop-color="#00c3dc"/><stop offset="0.45" stop-color="#00cdc3"/><stop offset="0.5" stop-color="#1ed4aa"/></linearGradient><linearGradient id="h59" gradientUnits="userSpaceOnUse" x1="894.1" y1="1215.1" x2="1256.1" y2="170.4"><stop offset="0.34" stop-color="#00b6f2"/><stop offset="0.4" stop-color="#00c3dc"/><stop offset="0.45" stop-color="#00cdc3"/><stop offset="0.5" stop-color="#1ed4aa"/></linearGradient><linearGradient id="h60" gradientUnits="userSpaceOnUse" x1="904.6" y1="1036.7" x2="1243.2" y2="388.5"><stop offset="0.4" stop-color="#00c3dc"/><stop offset="0.45" stop-color="#00cdc3"/><stop offset="0.5" stop-color="#1ed4aa"/><stop offset="0.55" stop-color="#5ad78c"/><stop offset="0.6" stop-color="#8cd778"/></linearGradient><linearGradient id="h61" gradientUnits="userSpaceOnUse" x1="464.7" y1="1121.4" x2="1555" y2="91.4"><stop offset="0.34" stop-color="#00b6f2"/><stop offset="0.4" stop-color="#00c3dc"/><stop offset="0.45" stop-color="#00cdc3"/></linearGradient><linearGradient id="h62" gradientUnits="userSpaceOnUse" x1="1136.1" y1="1449.7" x2="745.2" y2="-258.9"><stop offset="0.34" stop-color="#00b6f2"/><stop offset="0.4" stop-color="#00c3dc"/><stop offset="0.45" stop-color="#00cdc3"/></linearGradient><linearGradient id="h63" gradientUnits="userSpaceOnUse" x1="763.7" y1="1191.1" x2="1414.5" y2="199.1"><stop offset="0.34" stop-color="#00b6f2"/><stop offset="0.4" stop-color="#00c3dc"/><stop offset="0.45" stop-color="#00cdc3"/><stop offset="0.5" stop-color="#1ed4aa"/></linearGradient><linearGradient id="h64" gradientUnits="userSpaceOnUse" x1="946.8" y1="795.2" x2="987.2" y2="404.8"><stop offset="0.45" stop-color="#00cdc3"/><stop offset="0.5" stop-color="#1ed4aa"/><stop offset="0.55" stop-color="#5ad78c"/><stop offset="0.6" stop-color="#8cd778"/><stop offset="0.65" stop-color="#bed464"/><stop offset="0.7" stop-color="#e4cd5a"/></linearGradient><linearGradient id="h65" gradientUnits="userSpaceOnUse" x1="1072.8" y1="1154.2" x2="1140.4" y2="410.4"><stop offset="0.15" stop-color="#6982fa"/><stop offset="0.22" stop-color="#5596ff"/><stop offset="0.28" stop-color="#2da5ff"/><stop offset="0.34" stop-color="#00b6f2"/></linearGradient><linearGradient id="h66" gradientUnits="userSpaceOnUse" x1="1219.5" y1="1160.6" x2="1267.2" y2="430.6"><stop offset="0.15" stop-color="#6982fa"/><stop offset="0.22" stop-color="#5596ff"/><stop offset="0.28" stop-color="#2da5ff"/><stop offset="0.34" stop-color="#00b6f2"/></linearGradient><linearGradient id="h67" gradientUnits="userSpaceOnUse" x1="1077.1" y1="1150.2" x2="1124.1" y2="425.6"><stop offset="0.08" stop-color="#7668e8"/><stop offset="0.15" stop-color="#6982fa"/><stop offset="0.22" stop-color="#5596ff"/><stop offset="0.28" stop-color="#2da5ff"/></linearGradient><linearGradient id="h68" gradientUnits="userSpaceOnUse" x1="1014.6" y1="1127.9" x2="1264.3" y2="473.1"><stop offset="0.15" stop-color="#6982fa"/><stop offset="0.22" stop-color="#5596ff"/><stop offset="0.28" stop-color="#2da5ff"/><stop offset="0.34" stop-color="#00b6f2"/></linearGradient><linearGradient id="h69" gradientUnits="userSpaceOnUse" x1="1120.6" y1="1308.9" x2="1867.3" y2="209.2"><stop offset="0.22" stop-color="#5596ff"/><stop offset="0.28" stop-color="#2da5ff"/><stop offset="0.34" stop-color="#00b6f2"/><stop offset="0.4" stop-color="#00c3dc"/></linearGradient><linearGradient id="h70" gradientUnits="userSpaceOnUse" x1="1036.1" y1="1410.6" x2="2114.1" y2="63"><stop offset="0.28" stop-color="#2da5ff"/><stop offset="0.34" stop-color="#00b6f2"/><stop offset="0.4" stop-color="#00c3dc"/></linearGradient><linearGradient id="h71" gradientUnits="userSpaceOnUse" x1="1185.2" y1="857.4" x2="1861" y2="999.4"><stop offset="0.34" stop-color="#00b6f2"/><stop offset="0.4" stop-color="#00c3dc"/><stop offset="0.45" stop-color="#00cdc3"/><stop offset="0.5" stop-color="#1ed4aa"/></linearGradient><linearGradient id="h72" gradientUnits="userSpaceOnUse" x1="1189.2" y1="855.8" x2="1854.8" y2="1001.9"><stop offset="0.34" stop-color="#00b6f2"/><stop offset="0.4" stop-color="#00c3dc"/><stop offset="0.45" stop-color="#00cdc3"/><stop offset="0.5" stop-color="#1ed4aa"/></linearGradient><linearGradient id="h73" gradientUnits="userSpaceOnUse" x1="1216" y1="813.3" x2="1812.8" y2="1068.5"><stop offset="0.28" stop-color="#2da5ff"/><stop offset="0.34" stop-color="#00b6f2"/><stop offset="0.4" stop-color="#00c3dc"/><stop offset="0.45" stop-color="#00cdc3"/></linearGradient><linearGradient id="h74" gradientUnits="userSpaceOnUse" x1="1375.6" y1="1069.5" x2="1651.4" y2="603.2"><stop offset="0.4" stop-color="#00c3dc"/><stop offset="0.45" stop-color="#00cdc3"/><stop offset="0.5" stop-color="#1ed4aa"/><stop offset="0.55" stop-color="#5ad78c"/></linearGradient><linearGradient id="h75" gradientUnits="userSpaceOnUse" x1="1273.9" y1="813.1" x2="1780.7" y2="919.6"><stop offset="0.4" stop-color="#00c3dc"/><stop offset="0.45" stop-color="#00cdc3"/><stop offset="0.5" stop-color="#1ed4aa"/><stop offset="0.55" stop-color="#5ad78c"/></linearGradient><linearGradient id="h76" gradientUnits="userSpaceOnUse" x1="1385.1" y1="1179.8" x2="1736.1" y2="559.3"><stop offset="0.5" stop-color="#1ed4aa"/><stop offset="0.55" stop-color="#5ad78c"/><stop offset="0.6" stop-color="#8cd778"/><stop offset="0.65" stop-color="#bed464"/></linearGradient><linearGradient id="h77" gradientUnits="userSpaceOnUse" x1="1341.8" y1="1150.5" x2="1732.9" y2="561.8"><stop offset="0.5" stop-color="#1ed4aa"/><stop offset="0.55" stop-color="#5ad78c"/><stop offset="0.6" stop-color="#8cd778"/><stop offset="0.65" stop-color="#bed464"/></linearGradient><linearGradient id="h78" gradientUnits="userSpaceOnUse" x1="1988.9" y1="555.8" x2="1475.6" y2="725.2"><stop offset="0.7" stop-color="#e4cd5a"/><stop offset="0.75" stop-color="#fac85f"/><stop offset="0.8" stop-color="#fed064"/></linearGradient><linearGradient id="h79" gradientUnits="userSpaceOnUse" x1="1539.5" y1="1162.2" x2="1635.1" y2="566.4"><stop offset="0.65" stop-color="#bed464"/><stop offset="0.7" stop-color="#e4cd5a"/><stop offset="0.75" stop-color="#fac85f"/></linearGradient><linearGradient id="h80" gradientUnits="userSpaceOnUse" x1="1608.5" y1="1142.7" x2="1633.7" y2="577.2"><stop offset="0.65" stop-color="#bed464"/><stop offset="0.7" stop-color="#e4cd5a"/><stop offset="0.75" stop-color="#fac85f"/><stop offset="0.8" stop-color="#fed064"/></linearGradient><linearGradient id="h81" gradientUnits="userSpaceOnUse" x1="701.2" y1="1032" x2="1230.7" y2="318.5"><stop offset="0.6" stop-color="#8cd778"/><stop offset="0.65" stop-color="#bed464"/><stop offset="0.7" stop-color="#e4cd5a"/><stop offset="0.75" stop-color="#fac85f"/><stop offset="0.8" stop-color="#fed064"/></linearGradient><linearGradient id="h82" gradientUnits="userSpaceOnUse" x1="735.2" y1="967.4" x2="1234.9" y2="355.1"><stop offset="0.5" stop-color="#1ed4aa"/><stop offset="0.55" stop-color="#5ad78c"/><stop offset="0.6" stop-color="#8cd778"/><stop offset="0.65" stop-color="#bed464"/><stop offset="0.7" stop-color="#e4cd5a"/></linearGradient><linearGradient id="h83" gradientUnits="userSpaceOnUse" x1="802.5" y1="802" x2="1190" y2="465.3"><stop offset="0.45" stop-color="#00cdc3"/><stop offset="0.5" stop-color="#1ed4aa"/><stop offset="0.55" stop-color="#5ad78c"/><stop offset="0.6" stop-color="#8cd778"/><stop offset="0.65" stop-color="#bed464"/><stop offset="0.7" stop-color="#e4cd5a"/></linearGradient><linearGradient id="h84" gradientUnits="userSpaceOnUse" x1="731.6" y1="756.9" x2="1202.4" y2="443.1"><stop offset="0.45" stop-color="#00cdc3"/><stop offset="0.5" stop-color="#1ed4aa"/><stop offset="0.55" stop-color="#5ad78c"/><stop offset="0.6" stop-color="#8cd778"/><stop offset="0.65" stop-color="#bed464"/></linearGradient><linearGradient id="h85" gradientUnits="userSpaceOnUse" x1="827.8" y1="993.9" x2="1208.1" y2="358.3"><stop offset="0.55" stop-color="#5ad78c"/><stop offset="0.6" stop-color="#8cd778"/><stop offset="0.65" stop-color="#bed464"/><stop offset="0.7" stop-color="#e4cd5a"/><stop offset="0.75" stop-color="#fac85f"/></linearGradient><linearGradient id="h86" gradientUnits="userSpaceOnUse" x1="754.6" y1="962.9" x2="1221.9" y2="358.1"><stop offset="0.55" stop-color="#5ad78c"/><stop offset="0.6" stop-color="#8cd778"/><stop offset="0.65" stop-color="#bed464"/><stop offset="0.7" stop-color="#e4cd5a"/><stop offset="0.75" stop-color="#fac85f"/></linearGradient><linearGradient id="h87" gradientUnits="userSpaceOnUse" x1="789.8" y1="2190.4" x2="1273.2" y2="-28.3"><stop offset="0.7" stop-color="#e4cd5a"/><stop offset="0.75" stop-color="#fac85f"/><stop offset="0.8" stop-color="#fed064"/><stop offset="1" stop-color="#fed764"/></linearGradient><linearGradient id="h88" gradientUnits="userSpaceOnUse" x1="1020.6" y1="1321.2" x2="1204.2" y2="231.3"><stop offset="0.65" stop-color="#bed464"/><stop offset="0.7" stop-color="#e4cd5a"/><stop offset="0.75" stop-color="#fac85f"/><stop offset="0.8" stop-color="#fed064"/></linearGradient><linearGradient id="h89" gradientUnits="userSpaceOnUse" x1="536.3" y1="1308.8" x2="1333" y2="223.4"><stop offset="0.65" stop-color="#bed464"/><stop offset="0.7" stop-color="#e4cd5a"/><stop offset="0.75" stop-color="#fac85f"/><stop offset="0.8" stop-color="#fed064"/></linearGradient><linearGradient id="h90" gradientUnits="userSpaceOnUse" x1="1420.8" y1="1174" x2="1486.1" y2="469"><stop offset="0.55" stop-color="#5ad78c"/><stop offset="0.6" stop-color="#8cd778"/><stop offset="0.65" stop-color="#bed464"/><stop offset="0.7" stop-color="#e4cd5a"/><stop offset="0.75" stop-color="#fac85f"/></linearGradient><linearGradient id="h91" gradientUnits="userSpaceOnUse" x1="1376.4" y1="1109.5" x2="1515.8" y2="512"><stop offset="0.45" stop-color="#00cdc3"/><stop offset="0.5" stop-color="#1ed4aa"/><stop offset="0.55" stop-color="#5ad78c"/><stop offset="0.6" stop-color="#8cd778"/><stop offset="0.65" stop-color="#bed464"/></linearGradient><linearGradient id="h92" gradientUnits="userSpaceOnUse" x1="1304.8" y1="1080.1" x2="1403.6" y2="504.2"><stop offset="0.45" stop-color="#00cdc3"/><stop offset="0.5" stop-color="#1ed4aa"/><stop offset="0.55" stop-color="#5ad78c"/><stop offset="0.6" stop-color="#8cd778"/><stop offset="0.65" stop-color="#bed464"/><stop offset="0.7" stop-color="#e4cd5a"/></linearGradient><linearGradient id="h93" gradientUnits="userSpaceOnUse" x1="1140.3" y1="1158.7" x2="1736.3" y2="540"><stop offset="0.55" stop-color="#5ad78c"/><stop offset="0.6" stop-color="#8cd778"/><stop offset="0.65" stop-color="#bed464"/><stop offset="0.7" stop-color="#e4cd5a"/><stop offset="0.75" stop-color="#fac85f"/><stop offset="0.8" stop-color="#fed064"/></linearGradient><linearGradient id="h94" gradientUnits="userSpaceOnUse" x1="1441.5" y1="1189.6" x2="1472.4" y2="458.6"><stop offset="0.55" stop-color="#5ad78c"/><stop offset="0.6" stop-color="#8cd778"/><stop offset="0.65" stop-color="#bed464"/><stop offset="0.7" stop-color="#e4cd5a"/><stop offset="0.75" stop-color="#fac85f"/><stop offset="0.8" stop-color="#fed064"/></linearGradient><linearGradient id="h95" gradientUnits="userSpaceOnUse" x1="1403.2" y1="1130.3" x2="1625.9" y2="547"><stop offset="0.5" stop-color="#1ed4aa"/><stop offset="0.55" stop-color="#5ad78c"/><stop offset="0.6" stop-color="#8cd778"/><stop offset="0.65" stop-color="#bed464"/></linearGradient><linearGradient id="h96" gradientUnits="userSpaceOnUse" x1="1324.1" y1="1087.3" x2="1550.6" y2="526.8"><stop offset="0.5" stop-color="#1ed4aa"/><stop offset="0.55" stop-color="#5ad78c"/><stop offset="0.6" stop-color="#8cd778"/><stop offset="0.65" stop-color="#bed464"/></linearGradient><linearGradient id="h97" gradientUnits="userSpaceOnUse" x1="1342.5" y1="1058.8" x2="1538.3" y2="545.8"><stop offset="0.55" stop-color="#5ad78c"/><stop offset="0.6" stop-color="#8cd778"/><stop offset="0.65" stop-color="#bed464"/><stop offset="0.7" stop-color="#e4cd5a"/><stop offset="0.75" stop-color="#fac85f"/><stop offset="0.8" stop-color="#fed064"/></linearGradient><linearGradient id="h98" gradientUnits="userSpaceOnUse" x1="942.4" y1="921.9" x2="1805.1" y2="637.1"><stop offset="0.55" stop-color="#5ad78c"/><stop offset="0.6" stop-color="#8cd778"/><stop offset="0.65" stop-color="#bed464"/><stop offset="0.7" stop-color="#e4cd5a"/><stop offset="0.75" stop-color="#fac85f"/><stop offset="0.8" stop-color="#fed064"/></linearGradient><linearGradient id="h99" gradientUnits="userSpaceOnUse" x1="1021.6" y1="1503.3" x2="1587.9" y2="321.5"><stop offset="0.65" stop-color="#bed464"/><stop offset="0.7" stop-color="#e4cd5a"/><stop offset="0.75" stop-color="#fac85f"/><stop offset="0.8" stop-color="#fed064"/></linearGradient><linearGradient id="h100" gradientUnits="userSpaceOnUse" x1="1249.1" y1="1464.1" x2="1493.7" y2="339"><stop offset="0.65" stop-color="#bed464"/><stop offset="0.7" stop-color="#e4cd5a"/><stop offset="0.75" stop-color="#fac85f"/><stop offset="0.8" stop-color="#fed064"/></linearGradient><linearGradient id="h101" gradientUnits="userSpaceOnUse" x1="1087" y1="1260.6" x2="1087" y2="148.1"><stop offset="0.22" stop-color="#5596ff"/><stop offset="0.28" stop-color="#2da5ff"/><stop offset="0.34" stop-color="#00b6f2"/><stop offset="0.4" stop-color="#00c3dc"/></linearGradient><linearGradient id="h102" gradientUnits="userSpaceOnUse" x1="868.1" y1="1325.3" x2="1316.1" y2="-10.1"><stop offset="0.22" stop-color="#5596ff"/><stop offset="0.28" stop-color="#2da5ff"/><stop offset="0.34" stop-color="#00b6f2"/><stop offset="0.4" stop-color="#00c3dc"/></linearGradient><linearGradient id="h103" gradientUnits="userSpaceOnUse" x1="998" y1="1096.2" x2="998" y2="550.7"><stop offset="0.15" stop-color="#6982fa"/><stop offset="0.22" stop-color="#5596ff"/><stop offset="0.28" stop-color="#2da5ff"/><stop offset="0.34" stop-color="#00b6f2"/></linearGradient><linearGradient id="h104" gradientUnits="userSpaceOnUse" x1="922.8" y1="1055.6" x2="1039.4" y2="612.6"><stop offset="0.08" stop-color="#7668e8"/><stop offset="0.15" stop-color="#6982fa"/><stop offset="0.22" stop-color="#5596ff"/><stop offset="0.28" stop-color="#2da5ff"/><stop offset="0.34" stop-color="#00b6f2"/></linearGradient><linearGradient id="h105" gradientUnits="userSpaceOnUse" x1="1020" y1="1008.9" x2="1121.6" y2="370"><stop offset="0.5" stop-color="#1ed4aa"/><stop offset="0.55" stop-color="#5ad78c"/><stop offset="0.6" stop-color="#8cd778"/><stop offset="0.65" stop-color="#bed464"/><stop offset="0.7" stop-color="#e4cd5a"/></linearGradient><linearGradient id="h106" gradientUnits="userSpaceOnUse" x1="978.4" y1="1119.4" x2="1191.5" y2="296.3"><stop offset="0.4" stop-color="#00c3dc"/><stop offset="0.45" stop-color="#00cdc3"/><stop offset="0.5" stop-color="#1ed4aa"/><stop offset="0.55" stop-color="#5ad78c"/><stop offset="0.6" stop-color="#8cd778"/></linearGradient><linearGradient id="h107" gradientUnits="userSpaceOnUse" x1="956.1" y1="962.2" x2="1207.7" y2="410.2"><stop offset="0.45" stop-color="#00cdc3"/><stop offset="0.5" stop-color="#1ed4aa"/><stop offset="0.55" stop-color="#5ad78c"/><stop offset="0.6" stop-color="#8cd778"/><stop offset="0.65" stop-color="#bed464"/></linearGradient><linearGradient id="h108" gradientUnits="userSpaceOnUse" x1="979.6" y1="1118.9" x2="1208.8" y2="301.8"><stop offset="0.4" stop-color="#00c3dc"/><stop offset="0.45" stop-color="#00cdc3"/><stop offset="0.5" stop-color="#1ed4aa"/><stop offset="0.55" stop-color="#5ad78c"/><stop offset="0.6" stop-color="#8cd778"/></linearGradient><linearGradient id="h109" gradientUnits="userSpaceOnUse" x1="914.2" y1="981.9" x2="1039.3" y2="361.2"><stop offset="0.4" stop-color="#00c3dc"/><stop offset="0.45" stop-color="#00cdc3"/><stop offset="0.5" stop-color="#1ed4aa"/><stop offset="0.55" stop-color="#5ad78c"/><stop offset="0.6" stop-color="#8cd778"/></linearGradient><linearGradient id="h110" gradientUnits="userSpaceOnUse" x1="893.6" y1="979.5" x2="1016.2" y2="354.5"><stop offset="0.34" stop-color="#00b6f2"/><stop offset="0.4" stop-color="#00c3dc"/><stop offset="0.45" stop-color="#00cdc3"/><stop offset="0.5" stop-color="#1ed4aa"/></linearGradient><linearGradient id="h111" gradientUnits="userSpaceOnUse" x1="1041" y1="1127.9" x2="1260" y2="509.3"><stop offset="0.08" stop-color="#7668e8"/><stop offset="0.15" stop-color="#6982fa"/><stop offset="0.22" stop-color="#5596ff"/><stop offset="0.28" stop-color="#2da5ff"/></linearGradient><linearGradient id="h112" gradientUnits="userSpaceOnUse" x1="996.9" y1="1123.6" x2="1169.5" y2="425.9"><stop offset="0" stop-color="#7562d7"/><stop offset="0.08" stop-color="#7668e8"/><stop offset="0.15" stop-color="#6982fa"/><stop offset="0.22" stop-color="#5596ff"/></linearGradient><linearGradient id="h113" gradientUnits="userSpaceOnUse" x1="1030.7" y1="1142.3" x2="1269.6" y2="367.2"><stop offset="0" stop-color="#7562d7"/><stop offset="0.08" stop-color="#7668e8"/><stop offset="0.15" stop-color="#6982fa"/></linearGradient><linearGradient id="h114" gradientUnits="userSpaceOnUse" x1="1044.9" y1="1147.2" x2="1210.2" y2="338.8"><stop offset="0" stop-color="#7562d7"/><stop offset="0.08" stop-color="#7668e8"/><stop offset="0.15" stop-color="#6982fa"/></linearGradient><linearGradient id="h115" gradientUnits="userSpaceOnUse" x1="1042.9" y1="1125.8" x2="1170.8" y2="500.6"><stop offset="0.08" stop-color="#7668e8"/><stop offset="0.15" stop-color="#6982fa"/><stop offset="0.22" stop-color="#5596ff"/><stop offset="0.28" stop-color="#2da5ff"/></linearGradient><linearGradient id="h116" gradientUnits="userSpaceOnUse" x1="1023" y1="969.3" x2="1218.2" y2="401.1"><stop offset="0.6" stop-color="#8cd778"/><stop offset="0.65" stop-color="#bed464"/><stop offset="0.7" stop-color="#e4cd5a"/><stop offset="0.75" stop-color="#fac85f"/><stop offset="0.8" stop-color="#fed064"/></linearGradient><linearGradient id="h117" gradientUnits="userSpaceOnUse" x1="1094" y1="1144" x2="1094" y2="294"><stop offset="0.6" stop-color="#8cd778"/><stop offset="0.65" stop-color="#bed464"/><stop offset="0.7" stop-color="#e4cd5a"/><stop offset="0.75" stop-color="#fac85f"/></linearGradient><linearGradient id="h118" gradientUnits="userSpaceOnUse" x1="1120.2" y1="1039.8" x2="1158.6" y2="357.9"><stop offset="0.55" stop-color="#5ad78c"/><stop offset="0.6" stop-color="#8cd778"/><stop offset="0.65" stop-color="#bed464"/><stop offset="0.7" stop-color="#e4cd5a"/></linearGradient><linearGradient id="h119" gradientUnits="userSpaceOnUse" x1="894.4" y1="942" x2="1297" y2="417.8"><stop offset="0.6" stop-color="#8cd778"/><stop offset="0.65" stop-color="#bed464"/><stop offset="0.7" stop-color="#e4cd5a"/><stop offset="0.75" stop-color="#fac85f"/><stop offset="0.8" stop-color="#fed064"/></linearGradient><linearGradient id="h120" gradientUnits="userSpaceOnUse" x1="701" y1="1164.2" x2="1392.4" y2="263.8"><stop offset="0.55" stop-color="#5ad78c"/><stop offset="0.6" stop-color="#8cd778"/><stop offset="0.65" stop-color="#bed464"/></linearGradient><linearGradient id="h121" gradientUnits="userSpaceOnUse" x1="1055.3" y1="2801.6" x2="1624.1" y2="-69.7"><stop offset="0.7" stop-color="#e4cd5a"/><stop offset="0.75" stop-color="#fac85f"/><stop offset="0.8" stop-color="#fed064"/><stop offset="1" stop-color="#fed764"/></linearGradient><linearGradient id="h122" gradientUnits="userSpaceOnUse" x1="-1125.4" y1="769.2" x2="2239.2" y2="503.6"><stop offset="0.7" stop-color="#e4cd5a"/><stop offset="0.75" stop-color="#fac85f"/><stop offset="0.8" stop-color="#fed064"/></linearGradient><linearGradient id="h124" gradientUnits="userSpaceOnUse" x1="914" y1="1053.9" x2="1042.5" y2="607.9"><stop offset="0.08" stop-color="#7668e8"/><stop offset="0.15" stop-color="#6982fa"/><stop offset="0.22" stop-color="#5596ff"/><stop offset="0.28" stop-color="#2da5ff"/><stop offset="0.34" stop-color="#00b6f2"/></linearGradient><linearGradient id="h125" gradientUnits="userSpaceOnUse" x1="848.1" y1="1012.5" x2="958.5" y2="639.3"><stop offset="0.08" stop-color="#7668e8"/><stop offset="0.15" stop-color="#6982fa"/><stop offset="0.22" stop-color="#5596ff"/><stop offset="0.28" stop-color="#2da5ff"/><stop offset="0.34" stop-color="#00b6f2"/></linearGradient><linearGradient id="h126" gradientUnits="userSpaceOnUse" x1="898.9" y1="1045.1" x2="1081.5" y2="630.4"><stop offset="0.08" stop-color="#7668e8"/><stop offset="0.15" stop-color="#6982fa"/><stop offset="0.22" stop-color="#5596ff"/><stop offset="0.28" stop-color="#2da5ff"/><stop offset="0.34" stop-color="#00b6f2"/></linearGradient><linearGradient id="h127" gradientUnits="userSpaceOnUse" x1="863.7" y1="1220.8" x2="1171.9" y2="178.6"><stop offset="0.22" stop-color="#5596ff"/><stop offset="0.28" stop-color="#2da5ff"/><stop offset="0.34" stop-color="#00b6f2"/><stop offset="0.4" stop-color="#00c3dc"/></linearGradient><linearGradient id="h128" gradientUnits="userSpaceOnUse" x1="1034.5" y1="1238.7" x2="933" y2="114.5"><stop offset="0.22" stop-color="#5596ff"/><stop offset="0.28" stop-color="#2da5ff"/><stop offset="0.34" stop-color="#00b6f2"/><stop offset="0.4" stop-color="#00c3dc"/></linearGradient><linearGradient id="h129" gradientUnits="userSpaceOnUse" x1="826.3" y1="1283.5" x2="1418.4" y2="92.1"><stop offset="0.22" stop-color="#5596ff"/><stop offset="0.28" stop-color="#2da5ff"/><stop offset="0.34" stop-color="#00b6f2"/><stop offset="0.4" stop-color="#00c3dc"/></linearGradient><linearGradient id="h130" gradientUnits="userSpaceOnUse" x1="488.6" y1="836.8" x2="1404.3" y2="347"><stop offset="0.34" stop-color="#00b6f2"/><stop offset="0.4" stop-color="#00c3dc"/><stop offset="0.45" stop-color="#00cdc3"/><stop offset="0.5" stop-color="#1ed4aa"/></linearGradient><linearGradient id="h131" gradientUnits="userSpaceOnUse" x1="496.2" y1="820" x2="1395" y2="367.5"><stop offset="0.34" stop-color="#00b6f2"/><stop offset="0.4" stop-color="#00c3dc"/><stop offset="0.45" stop-color="#00cdc3"/><stop offset="0.5" stop-color="#1ed4aa"/></linearGradient><linearGradient id="h132" gradientUnits="userSpaceOnUse" x1="776.5" y1="898.4" x2="1162" y2="348.7"><stop offset="0.4" stop-color="#00c3dc"/><stop offset="0.45" stop-color="#00cdc3"/><stop offset="0.5" stop-color="#1ed4aa"/><stop offset="0.55" stop-color="#5ad78c"/></linearGradient><linearGradient id="h133" gradientUnits="userSpaceOnUse" x1="1150.3" y1="871.9" x2="783.7" y2="328.1"><stop offset="0.4" stop-color="#00c3dc"/><stop offset="0.45" stop-color="#00cdc3"/><stop offset="0.5" stop-color="#1ed4aa"/><stop offset="0.55" stop-color="#5ad78c"/></linearGradient><linearGradient id="h134" gradientUnits="userSpaceOnUse" x1="1768" y1="-620.3" x2="-159.4" y2="2127.9"><stop offset="0.4" stop-color="#00c3dc"/><stop offset="0.45" stop-color="#00cdc3"/><stop offset="0.5" stop-color="#1ed4aa"/></linearGradient><linearGradient id="h135" gradientUnits="userSpaceOnUse" x1="644" y1="804" x2="1324" y2="464"><stop offset="0.4" stop-color="#00c3dc"/><stop offset="0.45" stop-color="#00cdc3"/><stop offset="0.5" stop-color="#1ed4aa"/><stop offset="0.55" stop-color="#5ad78c"/><stop offset="0.6" stop-color="#8cd778"/></linearGradient><linearGradient id="h136" gradientUnits="userSpaceOnUse" x1="575.1" y1="614.3" x2="1390.1" y2="783.2"><stop offset="0.4" stop-color="#00c3dc"/><stop offset="0.45" stop-color="#00cdc3"/><stop offset="0.5" stop-color="#1ed4aa"/><stop offset="0.55" stop-color="#5ad78c"/><stop offset="0.6" stop-color="#8cd778"/></linearGradient><clipPath id="hullclip"><polygon points="700.5,733.4 1093,504 1162,482 1256,456 1303,444 1347.5,446.5 1425,468 1478,528 1499,562 1550,623 1652.7,761.7 1318.4,1009.4 964.8,1139.2"/></clipPath></defs>
<g id="hull" clip-path="url(#hullclip)" stroke-width="1.2" stroke-linejoin="round"><polygon points="919.9,1070.2 968,1072 964.8,1139.2" fill="url(#h0)" stroke="url(#h0)"/><polygon points="779.8,855.1 879,908 851.2,964.7" fill="url(#h1)" stroke="url(#h1)"/><polygon points="1300,650 1322,739 1200,740" fill="url(#h2)" stroke="url(#h2)"/><polygon points="1200,660 1300,650 1200,740" fill="url(#h3)" stroke="url(#h3)"/><polygon points="879,908 879,819 950,827" fill="url(#h4)" stroke="url(#h4)"/><polygon points="879,819 879,908 779.8,855.1" fill="url(#h5)" stroke="url(#h5)"/><polygon points="1087,849 1187,827 1153,929" fill="url(#h6)" stroke="url(#h6)"/><polygon points="1187,827 1288,895 1153,929" fill="url(#h7)" stroke="url(#h7)"/><polygon points="1230,1000 1288,895 1318.4,1009.4" fill="url(#h8)" stroke="url(#h8)"/><polygon points="1288,895 1230,1000 1153,929" fill="url(#h9)" stroke="url(#h9)"/><polygon points="1305,785 1322,739 1400,800" fill="url(#h10)" stroke="url(#h10)"/><polygon points="1288,895 1305,785 1400,800" fill="url(#h11)" stroke="url(#h11)"/><polygon points="1187,827 1305,785 1288,895" fill="url(#h12)" stroke="url(#h12)"/><polygon points="1322,739 1305,785 1200,740" fill="url(#h13)" stroke="url(#h13)"/><polygon points="1305,785 1187,827 1200,740" fill="url(#h14)" stroke="url(#h14)"/><polygon points="1200,660 1200,560 1300,650" fill="url(#h15)" stroke="url(#h15)"/><polygon points="774,730 779.8,855.1 700.5,733.4" fill="url(#h16)" stroke="url(#h16)"/><polygon points="774,730 879,819 779.8,855.1" fill="url(#h17)" stroke="url(#h17)"/><polygon points="879,819 879,730 950,827" fill="url(#h18)" stroke="url(#h18)"/><polygon points="879,730 774,730 837.9,653.1" fill="url(#h19)" stroke="url(#h19)"/><polygon points="774,730 879,730 879,819" fill="url(#h20)" stroke="url(#h20)"/><polygon points="1087,938 1087,849 1153,929" fill="url(#h21)" stroke="url(#h21)"/><polygon points="968,1072 1053.2,1106.8 964.8,1139.2" fill="url(#h22)" stroke="url(#h22)"/><polygon points="938,998 919.9,1070.2 851.2,964.7" fill="url(#h23)" stroke="url(#h23)"/><polygon points="919.9,1070.2 938,998 968,1072" fill="url(#h24)" stroke="url(#h24)"/><polygon points="938,998 1028,998 968,1072" fill="url(#h25)" stroke="url(#h25)"/><polygon points="1230,1041.8 1230,1000 1318.4,1009.4" fill="url(#h26)" stroke="url(#h26)"/><polygon points="1230,1000 1230,1041.8 1141.6,1074.3" fill="url(#h27)" stroke="url(#h27)"/><polygon points="1288,895 1339,929 1318.4,1009.4" fill="url(#h28)" stroke="url(#h28)"/><polygon points="1339,929 1367,946 1318.4,1009.4" fill="url(#h29)" stroke="url(#h29)"/><polygon points="1339,929 1288,895 1400,800" fill="url(#h30)" stroke="url(#h30)"/><polygon points="1451,793 1435,912 1400,800" fill="url(#h31)" stroke="url(#h31)"/><polygon points="1435,912 1339,929 1400,800" fill="url(#h32)" stroke="url(#h32)"/><polygon points="1339,929 1435,912 1367,946" fill="url(#h33)" stroke="url(#h33)"/><polygon points="1435,912 1451,793 1502,861" fill="url(#h34)" stroke="url(#h34)"/><polygon points="1451,793 1519,827 1502,861" fill="url(#h35)" stroke="url(#h35)"/><polygon points="1599.2,801.3 1604,760 1652.7,761.7" fill="url(#h36)" stroke="url(#h36)"/><polygon points="1604,760 1599.2,801.3 1570,793" fill="url(#h37)" stroke="url(#h37)"/><polygon points="1604,709 1604,760 1570,793" fill="url(#h38)" stroke="url(#h38)"/><polygon points="1300,540 1400,540 1300,650" fill="url(#h39)" stroke="url(#h39)"/><polygon points="1200,560 1300,540 1300,650" fill="url(#h40)" stroke="url(#h40)"/><polygon points="1256,456 1300,540 1200,560" fill="url(#h41)" stroke="url(#h41)"/><polygon points="1300,540 1256,456 1303,444" fill="url(#h42)" stroke="url(#h42)"/><polygon points="1347.5,446.5 1425,468 1400,540" fill="url(#h43)" stroke="url(#h43)"/><polygon points="1347.5,446.5 1300,540 1303,444" fill="url(#h44)" stroke="url(#h44)"/><polygon points="1300,540 1347.5,446.5 1400,540" fill="url(#h45)" stroke="url(#h45)"/><polygon points="1425,468 1478,528 1400,540" fill="url(#h46)" stroke="url(#h46)"/><polygon points="1370,700 1322,739 1300,650" fill="url(#h47)" stroke="url(#h47)"/><polygon points="1418,676 1370,700 1300,650" fill="url(#h48)" stroke="url(#h48)"/><polygon points="1322,739 1370,700 1400,800" fill="url(#h49)" stroke="url(#h49)"/><polygon points="1400,540 1435,609 1300,650" fill="url(#h50)" stroke="url(#h50)"/><polygon points="1435,609 1418,676 1300,650" fill="url(#h51)" stroke="url(#h51)"/><polygon points="1478,528 1435,609 1400,540" fill="url(#h52)" stroke="url(#h52)"/><polygon points="771.1,692.1 774,730 700.5,733.4" fill="url(#h53)" stroke="url(#h53)"/><polygon points="774,730 771.1,692.1 837.9,653.1" fill="url(#h54)" stroke="url(#h54)"/><polygon points="998,834 1057,745 1087,849" fill="url(#h55)" stroke="url(#h55)"/><polygon points="1085,743 1057,745 1035,651" fill="url(#h56)" stroke="url(#h56)"/><polygon points="1187,827 1085,743 1200,740" fill="url(#h57)" stroke="url(#h57)"/><polygon points="1085,743 1187,827 1087,849" fill="url(#h58)" stroke="url(#h58)"/><polygon points="1057,745 1085,743 1087,849" fill="url(#h59)" stroke="url(#h59)"/><polygon points="1057,745 968,715 1035,651" fill="url(#h60)" stroke="url(#h60)"/><polygon points="879,730 968,715 950,827" fill="url(#h61)" stroke="url(#h61)"/><polygon points="968,715 998,834 950,827" fill="url(#h62)" stroke="url(#h62)"/><polygon points="998,834 968,715 1057,745" fill="url(#h63)" stroke="url(#h63)"/><polygon points="967,600 951.7,586.6 1026.3,543" fill="url(#h64)" stroke="url(#h64)"/><polygon points="1087,998 1087,938 1153,929" fill="url(#h65)" stroke="url(#h65)"/><polygon points="1230,1000 1087,998 1153,929" fill="url(#h66)" stroke="url(#h66)"/><polygon points="1087,998 1230,1000 1141.6,1074.3" fill="url(#h67)" stroke="url(#h67)"/><polygon points="1087,938 1087,998 1028,998" fill="url(#h68)" stroke="url(#h68)"/><polygon points="1367,946 1391.9,954.9 1318.4,1009.4" fill="url(#h69)" stroke="url(#h69)"/><polygon points="1435,912 1391.9,954.9 1367,946" fill="url(#h70)" stroke="url(#h70)"/><polygon points="1448.8,912.8 1502,861 1498.9,875.6" fill="url(#h71)" stroke="url(#h71)"/><polygon points="1448.8,912.8 1435,912 1502,861" fill="url(#h72)" stroke="url(#h72)"/><polygon points="1448.8,912.8 1391.9,954.9 1435,912" fill="url(#h73)" stroke="url(#h73)"/><polygon points="1519,827 1549.1,838.5 1502,861" fill="url(#h74)" stroke="url(#h74)"/><polygon points="1502,861 1549.1,838.5 1498.9,875.6" fill="url(#h75)" stroke="url(#h75)"/><polygon points="1599.2,801.3 1549.1,838.5 1570,793" fill="url(#h76)" stroke="url(#h76)"/><polygon points="1549.1,838.5 1519,827 1570,793" fill="url(#h77)" stroke="url(#h77)"/><polygon points="1596.2,685.4 1627,727 1604,709" fill="url(#h78)" stroke="url(#h78)"/><polygon points="1604,760 1627,727 1652.7,761.7" fill="url(#h79)" stroke="url(#h79)"/><polygon points="1627,727 1604,760 1604,709" fill="url(#h80)" stroke="url(#h80)"/><polygon points="1093,504 1094,549 1026.3,543" fill="url(#h81)" stroke="url(#h81)"/><polygon points="1035,600 1085,600 1035,651" fill="url(#h82)" stroke="url(#h82)"/><polygon points="1035,600 967,600 1026.3,543" fill="url(#h83)" stroke="url(#h83)"/><polygon points="967,600 1035,600 1035,651" fill="url(#h84)" stroke="url(#h84)"/><polygon points="1094,549 1035,600 1026.3,543" fill="url(#h85)" stroke="url(#h85)"/><polygon points="1035,600 1094,549 1085,600" fill="url(#h86)" stroke="url(#h86)"/><polygon points="1162,482 1256,456 1200,560" fill="url(#h87)" stroke="url(#h87)"/><polygon points="1162,482 1094,549 1093,504" fill="url(#h88)" stroke="url(#h88)"/><polygon points="1094,549 1162,482 1200,560" fill="url(#h89)" stroke="url(#h89)"/><polygon points="1460,751 1370,700 1418,676" fill="url(#h90)" stroke="url(#h90)"/><polygon points="1460,751 1451,793 1400,800" fill="url(#h91)" stroke="url(#h91)"/><polygon points="1370,700 1460,751 1400,800" fill="url(#h92)" stroke="url(#h92)"/><polygon points="1596.2,685.4 1460,751 1550,623" fill="url(#h93)" stroke="url(#h93)"/><polygon points="1460,751 1418,676 1550,623" fill="url(#h94)" stroke="url(#h94)"/><polygon points="1519,827 1460,751 1570,793" fill="url(#h95)" stroke="url(#h95)"/><polygon points="1460,751 1519,827 1451,793" fill="url(#h96)" stroke="url(#h96)"/><polygon points="1460,751 1604,709 1570,793" fill="url(#h97)" stroke="url(#h97)"/><polygon points="1460,751 1596.2,685.4 1604,709" fill="url(#h98)" stroke="url(#h98)"/><polygon points="1418,676 1502,600 1550,623" fill="url(#h99)" stroke="url(#h99)"/><polygon points="1435,609 1502,600 1418,676" fill="url(#h100)" stroke="url(#h100)"/><polygon points="1087,938 998,938 1087,849" fill="url(#h101)" stroke="url(#h101)"/><polygon points="998,938 998,834 1087,849" fill="url(#h102)" stroke="url(#h102)"/><polygon points="998,938 1087,938 1028,998" fill="url(#h103)" stroke="url(#h103)"/><polygon points="938,998 998,938 1028,998" fill="url(#h104)" stroke="url(#h104)"/><polygon points="1085,600 1102,642 1035,651" fill="url(#h105)" stroke="url(#h105)"/><polygon points="1102,642 1085,743 1035,651" fill="url(#h106)" stroke="url(#h106)"/><polygon points="1102,642 1200,660 1200,740" fill="url(#h107)" stroke="url(#h107)"/><polygon points="1085,743 1102,642 1200,740" fill="url(#h108)" stroke="url(#h108)"/><polygon points="968,715 950,692 1035,651" fill="url(#h109)" stroke="url(#h109)"/><polygon points="950,692 968,715 879,730" fill="url(#h110)" stroke="url(#h110)"/><polygon points="1087,998 1057,1057 1028,998" fill="url(#h111)" stroke="url(#h111)"/><polygon points="1028,998 1057,1057 968,1072" fill="url(#h112)" stroke="url(#h112)"/><polygon points="1057,1057 1053.2,1106.8 968,1072" fill="url(#h113)" stroke="url(#h113)"/><polygon points="1053.2,1106.8 1057,1057 1141.6,1074.3" fill="url(#h114)" stroke="url(#h114)"/><polygon points="1057,1057 1087,998 1141.6,1074.3" fill="url(#h115)" stroke="url(#h115)"/><polygon points="1144,617 1094,549 1200,560" fill="url(#h116)" stroke="url(#h116)"/><polygon points="1094,549 1144,617 1085,600" fill="url(#h117)" stroke="url(#h117)"/><polygon points="1144,617 1102,642 1085,600" fill="url(#h118)" stroke="url(#h118)"/><polygon points="1144,617 1200,560 1200,660" fill="url(#h119)" stroke="url(#h119)"/><polygon points="1102,642 1144,617 1200,660" fill="url(#h120)" stroke="url(#h120)"/><polygon points="1499,562 1435,609 1478,528" fill="url(#h121)" stroke="url(#h121)"/><polygon points="1499,562 1502,600 1435,609" fill="url(#h122)" stroke="url(#h122)"/><polygon points="1502,600 1499,562 1550,623" fill="#fccd62" stroke="#fccd62"/><polygon points="950,929 998,938 938,998" fill="url(#h124)" stroke="url(#h124)"/><polygon points="879,908 950,929 851.2,964.7" fill="url(#h125)" stroke="url(#h125)"/><polygon points="950,929 938,998 851.2,964.7" fill="url(#h126)" stroke="url(#h126)"/><polygon points="950,929 879,908 950,827" fill="url(#h127)" stroke="url(#h127)"/><polygon points="998,834 950,929 950,827" fill="url(#h128)" stroke="url(#h128)"/><polygon points="998,938 950,929 998,834" fill="url(#h129)" stroke="url(#h129)"/><polygon points="900.7,616.4 879,730 837.9,653.1" fill="url(#h130)" stroke="url(#h130)"/><polygon points="900.7,616.4 950,692 879,730" fill="url(#h131)" stroke="url(#h131)"/><polygon points="950,651 900.7,616.4 951.7,586.6" fill="url(#h132)" stroke="url(#h132)"/><polygon points="967,600 950,651 951.7,586.6" fill="url(#h133)" stroke="url(#h133)"/><polygon points="900.7,616.4 950,651 950,692" fill="url(#h134)" stroke="url(#h134)"/><polygon points="950,651 967,600 1035,651" fill="url(#h135)" stroke="url(#h135)"/><polygon points="950,692 950,651 1035,651" fill="url(#h136)" stroke="url(#h136)"/></g>
<g id="hull-seen-through-edges" clip-path="url(#hullclip)" opacity="0.42"><line class="bx" x1="762.6" y1="879.6" x2="762.6" y2="66.6"/><line class="bx" x1="762.6" y1="879.6" x2="2162" y2="994.2"/><line class="bx" x1="305.6" y1="1230.4" x2="762.6" y2="879.6"/></g>
<g id="hull-seen-through-markers" clip-path="url(#hullclip)" opacity="0.5"><g id="ship-inside-veiled" class="mb" fill-rule="evenodd">
<path d="M1052.6 544.1L1072.4 544.1L1072.4 524.3L1052.6 524.3zM1026.7 550L1046.5 550L1046.5 530.2L1026.7 530.2zM1059.3 570.3L1079.1 570.3L1079.1 550.5L1059.3 550.5zM1006.9 582.1L1019.6 582.1L1019.6 589.7L1039.4 589.7L1039.4 569.9L1026.7 569.9L1026.7 562.3L1006.9 562.3zM1009.1 643.9L1028.9 643.9L1028.9 624.1L1009.1 624.1zM922.5 649.7L922.5 669.5L942.3 669.5L942.3 649.7zM1063.4 670.1L1063.4 650.3L1043.6 650.3L1043.6 670.1zM828.6 652.3L828.6 672.1L848.4 672.1L848.4 652.3zM957 694.6L976.8 694.6L976.8 682.8L996.3 682.8L996.3 663L976.5 663L976.5 674.8L957 674.8zM1017.4 669.7L997.6 669.7L997.6 689.5L1017.4 689.5zM1056.8 674.8L1056.8 694.6L1076.6 694.6L1076.6 674.8zM881.1 736.6L881.1 756.4L900.9 756.4L900.9 736.6zM1043.6 789L1063.9 789.3L1063.9 769.5L1043.6 769.2zM1006.1 776L1006.1 777.4L1004.7 777.4L1004.7 781L1002.7 781L1002.7 800.8L1022.5 800.8L1022.5 797.2L1024.5 797.2L1024.5 795.8L1025.9 795.8L1025.9 776zM1057.1 819.4L1057.2 799.6L1037.4 799.6L1037.3 819.5zM953.1 882.5L952.7 882.5L952.7 882.1L932.9 882.1L932.9 901.9L933.3 901.9L933.3 902.3L953.1 902.3zM1102.8 514L1102.8 494.2L1083 494.2L1083 514zM1118 557.3L1098.2 557.3L1098.2 577.1L1118 577.1zM1059.3 578.4L1059.3 598.2L1079.1 598.2L1079.1 578.4zM1070.9 719.1L1070.9 737.7L1119.4 737.7L1119.4 756L1130 756L1130 760.7L1116.8 760.7L1116.8 780.5L1130 780.5L1130 811.7L1142.7 811.7L1142.7 816L1168.1 816L1168.1 802.8L1190.9 802.8L1190.9 806.6L1218.9 806.6L1218.9 835.2L1203.9 835.2L1203.9 855L1217.5 855L1217.5 859.2L1237.3 859.2L1237.3 839.4L1223.7 839.4L1223.7 835.8L1237.5 835.8L1237.5 832.4L1266.3 832.4L1266.3 818.8L1293.3 818.8L1293.3 823.9L1311.9 823.9L1311.9 820.5L1330.5 820.5L1330.5 844.2L1350 844.2L1350 881.4L1383 881.4L1383 891.6L1417.7 891.6L1417.7 866.2L1383.8 866.2L1383.8 861.1L1429.5 861.1L1429.5 852.4L1459.7 852.4L1459.7 832.6L1429.5 832.6L1429.5 816L1444.4 816L1444.4 747L1455.9 747L1455.9 740.6L1444.4 740.6L1444.4 675.9L1480 675.9L1480 628L1481.2 628L1481.2 621.5L1438.1 621.5L1438.1 605L1452.3 605L1452.3 606.1L1468.8 606.1L1468.8 617.5L1488.6 617.5L1488.6 611.1L1493.1 611.1L1493.1 591.3L1473.3 591.3L1473.3 597.7L1472.1 597.7L1472.1 586.3L1468.3 586.3L1468.3 572.3L1448.5 572.3L1448.5 592.1L1452.3 592.3L1438.1 592.3L1438.1 583.5L1415 583.5L1415 452.7L1364.9 452.7L1364.9 447L1345.8 447L1345.8 452.7L1303.9 452.7L1303.9 443.2L1274.7 443.2L1274.7 445.1L1241.7 445.1L1241.7 459L1257 459L1257 481.9L1236.6 481.9L1236.6 470.5L1208.7 470.5L1208.7 469.2L1182.7 469.2L1182.7 470.5L1182.1 470.5L1182.1 507.3L1175.7 507.3L1175.7 493.3L1178.2 493.3L1178.2 474.3L1146.5 474.3L1146.5 492.1L1130 492.1L1130 496.1L1126.7 496.1L1126.7 510.5L1107.3 510.5L1107.3 522.3L1090.4 522.3L1090.4 526L1083.9 526L1083.9 545.8L1103.7 545.8L1103.7 542.4L1117.2 542.4L1117.2 532.5L1119.1 532.5L1119.1 525.7L1126.7 525.7L1126.7 530.8L1130 530.8L1130 531.4L1142.7 531.4L1142.7 541.6L1130 541.6L1130 547.7L1127.6 547.7L1127.6 598.4L1107.3 598.4L1107.3 618.7L1095.5 618.7L1095.5 637.3L1079.1 637.3L1079.1 621.5L1059.3 621.5L1059.3 641.3L1078.5 641.3L1078.5 692L1130 692L1130 693.6L1150.3 693.6L1150.3 698.7L1130 698.7L1130 695.4L1042.8 695.4L1042.8 682.1L1023 682.1L1023 695.4L994.8 695.4L994.8 716.5L1041.3 716.5L1041.3 719.1zM1406.8 780L1406.8 772.3L1421.6 772.3L1421.6 780zM1402.9 719L1402.9 703.8L1415 703.8L1415 719zM1408 683.5L1408 665.7L1425.4 665.7L1425.4 683.5zM1410.6 645.4L1410.6 632.7L1415 632.7L1415 634L1422.9 634L1422.9 645.4zM1135.1 734.3L1135.1 736.2L1130 736.2L1130 734.3zM1130 716.5L1130 717.4L1081.9 717.4L1081.9 716.5zM1161.7 628L1130 628L1130 631.4L1137.6 631.4L1137.6 646.7L1130 646.7L1130 637.3L1115.8 637.3L1115.8 618.7L1130 618.7L1130 597.4L1135.1 597.4L1135.1 596.2L1161.7 596.2zM1133.8 589.8L1133.8 593.6L1130 593.6L1130 589.8zM1168.1 508.6L1168.1 512.4L1160.5 512.4L1160.5 508.6zM1190.9 569.5L1190.9 574.6L1185.9 574.6L1185.9 569.5zM1274.7 610.1L1274.7 613.9L1267.1 613.9L1267.1 610.1zM1392.8 816L1367.4 816L1367.4 802.8L1373.7 802.8L1373.7 810.4L1392.8 810.4zM1149 650.5L1149 645.4L1156.7 645.4L1156.7 650.5zM1190.9 730.4L1190.9 727.9L1198.6 727.9L1198.6 730.4zM1154.1 739.3L1154.1 724.1L1159.2 724.1L1159.2 739.3zM1216.3 733L1216.3 730.4L1220.1 730.4L1220.1 733zM1272.2 797.7L1272.2 791.4L1276 791.4L1276 772.3L1273.5 772.3L1273.5 748.2L1283.6 748.2L1283.6 771.1L1306.5 771.1L1306.5 797.7L1302.7 797.7L1302.7 791.4L1284.9 791.4L1284.9 797.7zM1165.5 734.3L1165.5 762.2L1189.7 762.2L1189.7 778.7L1185.9 778.7L1185.9 767.3L1165.5 767.3L1165.5 782.5L1168.1 782.5L1168.1 797.7L1156.7 797.7L1156.7 782.5L1160.5 782.5L1160.5 734.3zM1208.7 780.6L1208.7 773.6L1216.3 773.6L1216.3 780.6zM1333.1 680.9L1333.1 667L1338.2 667L1338.2 679.7L1344.5 679.7L1344.5 689.8L1336.9 689.8L1336.9 680.9zM1361.1 777.4L1342 777.4L1342 797.7L1338.2 797.7L1338.2 777.4L1336.9 777.4L1336.9 768.5L1328 768.5L1328 764.7L1336.9 764.7L1336.9 758.4L1378.8 758.4L1378.8 745.7L1309 745.7L1309 757.1L1300.1 757.1L1300.1 730.4L1323 730.4L1323 726.6L1333.1 726.6L1333.1 730.4L1354.7 730.4L1354.7 721.6L1364.9 721.6L1364.9 730.4L1395.3 730.4L1395.3 745.7L1391.5 745.7L1391.5 767.3L1378.8 767.3L1378.8 760.9L1361.1 760.9zM1364.9 795.2L1362.3 795.2L1362.3 780.6L1380.1 780.6L1380.1 783.1L1364.9 783.1zM1253.8 868.5L1273.6 868.5L1273.6 848.7L1272.8 848.7L1272.8 842.8L1253 842.8L1253 862.6L1253.8 862.6zM1169.6 872.7L1169.6 852.9L1149.8 852.9L1149.8 872.7zM1342.1 854.6L1322.3 854.6L1322.3 874.4L1342.1 874.4zM1098.4 859.8L1098.2 880.3L1118 880.3L1118.2 859.8zM1180.3 870.2L1180.3 876.1L1200.1 876.1L1200.1 891.3L1219.9 891.3L1219.9 871.5L1200.1 871.5L1200.1 856.3L1191.6 856.3L1191.6 850.4L1171.8 850.4L1171.8 870.2zM1072 864.8L1072 884.8L1091.8 884.8L1091.8 864.8zM1260.6 891.3L1280.4 891.3L1280.4 871.5L1260.6 871.5zM1227.6 896.4L1247.4 896.4L1247.4 876.6L1227.6 876.6zM1173 882.5L1154.4 882.5L1154.4 878.3L1134.6 878.3L1134.6 898.1L1153.2 898.1L1153.2 902.3L1173 902.3zM1130.7 891L1118.2 890.7L1118 881.7L1098.2 881.7L1098.2 901.5L1098.4 901.9L1110.4 901.9L1110.4 910.5L1110.9 910.8L1130.7 910.8z"/>
<path d="M1161.5 943.4L1161.5 923.6L1161.1 923.3L1141.3 923.3L1141.3 943.1L1141.7 943.4zM1247.9 935.8L1247.7 955.8L1267.5 955.8L1267.7 941.2L1285.5 941.2L1285.5 921.4L1265.7 921.4L1265.7 935.8zM1423.5 477.5L1423.5 464.1L1419 464.1L1419 480.6L1429.8 480.6L1429.8 477.5zM1458.7 550.2L1478.5 550.2L1478.5 530.4L1458.7 530.4zM1428.2 555.8L1428.2 575.6L1448 575.6L1448 555.8zM1500.7 553.2L1480.9 553.2L1480.9 582.6L1500.7 582.6zM1551.6 680.7L1571.4 680.7L1571.4 660.9L1551.6 660.9zM1471.3 713.7L1491.1 713.7L1491.1 693.9L1471.3 693.9zM1522.9 718L1522.9 701.5L1503.1 701.5L1503.1 721.3L1505.6 721.3L1505.6 737.8L1525.4 737.8L1525.4 718zM1471.1 747L1477.4 747L1477.4 740.6L1471.1 740.6zM1493.1 775.9L1493.1 756.1L1473.3 756.1L1473.3 775.9zM1467.8 825.9L1467.8 845.7L1487.6 845.7L1487.6 825.9zM1450 868.1L1450 887.9L1469.8 887.9L1469.8 879.5L1471.5 879.5L1471.5 859.7L1451.7 859.7L1451.7 868.1zM1441.1 901.5L1441.1 881.7L1421.3 881.7L1421.3 901.5zM1350.2 909.9L1370 909.9L1370 903.2L1373.4 903.2L1373.4 883.4L1353.6 883.4L1353.6 890.1L1350.2 890.1z"/>
</g></g>

<g id="ship-hull-vertices" class="mb" fill-rule="evenodd">
<path d="M1477.4 530.4L1477.4 541.6L1488.9 541.6L1488.9 530.4zM1500.3 551.7L1500.3 544.4L1490.4 544.4L1490.4 551.7zM1570.8 661.3L1552.3 661.3L1552.3 672.1L1570.8 672.1zM690.6 723.5L690.6 743.3L710.4 743.3L710.4 723.5zM1642.8 751.8L1642.8 771.6L1662.6 771.6L1662.6 751.8zM1334.2 869L1334.2 888.8L1354 888.8L1354 869zM1328.3 1019.3L1328.3 999.5L1308.5 999.5L1308.5 1019.3zM974.7 1149.1L974.7 1129.3L954.9 1129.3L954.9 1149.1z"/>
</g>
<path id="ship-half-front" fill="#0000ff" opacity=".3" d="M881.1 736.6L900.9 736.6L881.1 756.4zM1141.3 923.3L1161.1 923.3L1141.3 943.1zM1247.7 936L1267.5 936L1247.7 955.8zM1141.7 923.6L1161.5 923.6L1141.7 943.4zM1247.9 935.8L1267.7 935.8L1247.9 955.6zM1110.9 891L1130.7 891L1110.9 910.8zM1421.3 881.7L1441.1 881.7L1421.3 901.5zM1451.7 863.9L1471.5 863.9L1451.7 883.7z"/>
<g id="buoy-fault" class="mg" fill-rule="evenodd">
<path d="M1232.2 475.3L1224.5 475.5L1220.8 468.7L1217.1 475.5L1209.3 475.3L1213.4 481.9L1209.3 488.5L1217.1 488.3L1220.8 495.1L1224.5 488.3L1232.2 488.5L1228.2 481.9zM1291.3 516.1L1283.6 515.9L1287.6 522.5L1283.6 529.1L1291.3 528.9L1295 535.7L1298.7 528.9L1306.5 529.1L1302.4 522.5L1306.5 515.9L1303.1 516L1305.1 512.4L1312.8 512.6L1309.1 506.5L1311.4 502.3L1321.8 502.3L1325.5 509.1L1329.2 502.3L1336.9 502.5L1335.2 499.7L1340.9 499.7L1343.3 504L1345.6 499.7L1348.4 499.7L1348.4 497.2L1354.7 497.4L1350.7 490.8L1354.7 484.2L1348.4 484.3L1348.4 471.9L1352.2 472L1348.4 465.8L1348.4 465L1352.2 458.8L1344.4 459L1340.7 452.2L1337 459L1329.3 458.8L1331 461.6L1296.7 461.6L1297.6 460.1L1289.8 460.3L1286.2 453.5L1282.5 460.3L1274.7 460.1L1278.5 466.3L1278.5 467L1275.7 471.6L1270.9 471.5L1275 478.1L1270.9 484.7L1278.5 484.5L1278.5 492.8L1277.3 494.8L1285 494.6L1288.7 501.4L1292.4 494.6L1293.8 494.7L1293.8 499.5L1290 499.4L1294 506L1290 512.6L1293.3 512.5zM1298.7 516.1L1296.7 512.4L1297.7 512.4L1299.7 516.1zM1193.5 515.4L1195 512.6L1201.2 512.4L1204.9 519.2L1208.6 512.4L1216.3 512.6L1212.3 506L1216.3 499.4L1208.6 499.6L1204.9 492.8L1203.4 495.6L1197.2 495.8L1193.5 489L1189.8 495.8L1182 495.6L1186.1 502.2L1182 508.8L1189.8 508.6zM1333.1 504.2L1329.4 511L1321.7 510.8L1325.7 517.4L1321.7 524L1329.4 523.8L1333.1 530.6L1336.8 523.8L1344.6 524L1340.5 517.4L1344.6 510.8L1336.8 511zM1177.7 532.8L1183.3 532.9L1179.3 526.3L1183.3 519.7L1175.6 519.9L1173.4 515.9L1175.7 512.1L1168 512.3L1164.3 505.5L1160.6 512.3L1152.8 512.1L1155.3 516.2L1150.3 516.2L1150.3 525L1144 524.8L1148 531.4L1144 538L1149.3 537.9L1150.3 539.6L1150.3 544.1L1153.1 544.1L1149 550.7L1156.8 550.5L1160.5 557.3L1164.2 550.5L1171.9 550.7L1169.6 546.9L1171.1 544.1L1173.2 544.1L1173.2 542.9L1179.5 543.1L1175.5 536.5zM1324.2 538.5L1320.5 545.3L1312.8 545.1L1316.8 551.7L1312.8 558.3L1320.5 558.1L1324.2 564.9L1327.9 558.1L1335.7 558.3L1331.6 551.7L1335.7 545.1L1327.9 545.3zM1048.9 569.4L1052.6 562.6L1060.4 562.8L1056.3 556.2L1060.4 549.6L1052.6 549.8L1048.9 543L1045.2 549.8L1037.5 549.6L1041.6 556.2L1037.5 562.8L1045.2 562.6zM1190.9 568.7L1193.2 564.6L1198.7 564.5L1202.4 571.3L1206.1 564.5L1213.8 564.7L1209.8 558.1L1213.8 551.5L1206.1 551.7L1202.4 544.9L1200.1 549L1194.6 549.1L1190.9 542.3L1187.2 549.1L1179.5 548.9L1183.5 555.5L1179.5 562.1L1187.2 561.9zM1132.5 553.8L1128.8 560.6L1121.1 560.4L1125.1 567L1121.1 573.6L1128.8 573.4L1132.5 580.2L1136.2 573.4L1144 573.6L1139.9 567L1144 560.4L1136.2 560.6zM1321.5 592.3L1325.5 585.7L1321.5 585.8L1321.1 585.3L1324.1 579.7L1331.9 579.9L1327.8 573.3L1331.9 566.7L1324.1 566.9L1320.4 560.1L1316.7 566.9L1309 566.7L1309.6 567.7L1308.1 570.5L1301.3 570.7L1297.6 563.9L1293.9 570.7L1286.1 570.5L1290.2 577.1L1286.1 583.7L1290.2 583.6L1291.2 585.3L1291.2 592.3L1283.6 592.1L1287.6 598.7L1283.6 605.3L1291.3 605.1L1295 611.9L1298 606.5L1304 606.4L1307.7 613.2L1311.4 606.4L1319.2 606.6L1316.2 601.7L1317.1 600L1317.9 600L1317.9 598.7L1325.5 598.9z"/>
<path d="M1230.2 537.8L1237.9 538L1237.9 546.1L1236.6 548.2L1237.9 548.1L1237.9 568L1235.4 568L1237.9 572.1L1237.9 574.6L1239.4 574.6L1235.4 581.2L1238 581.1L1236.8 583.4L1234.3 583.3L1234.1 583L1233.9 583.3L1229 583.2L1231.6 587.5L1231.1 588.5L1224.5 588.5L1227.8 583.2L1220 583.4L1216.3 576.6L1212.6 583.4L1204.9 583.2L1208.2 588.5L1204.6 588.5L1203.6 586.8L1202.7 588.5L1192.7 588.5L1189.7 583L1186.6 588.5L1185.9 588.5L1185.9 589.7L1178.2 589.6L1182.3 596.2L1178.2 602.8L1185.9 602.6L1185.9 608.8L1189.4 608.8L1189.7 609.4L1189.9 608.8L1196 608.8L1196 613.7L1194.7 613.7L1196 615.8L1196 624.8L1194.7 626.9L1196 626.8L1196 628L1203.2 628L1206.2 633.5L1207.4 631.1L1207.4 636.4L1199.8 636.3L1203.9 642.9L1199.8 649.5L1207.4 649.3L1207.4 658.1L1212.5 658.1L1210 662.1L1212.5 662.1L1212.5 677L1207.4 676.9L1208.4 678.5L1205 684.7L1197.3 684.5L1198.2 686L1192.6 686L1190.9 683L1189.3 686L1184.9 686L1185.9 684.5L1178.1 684.7L1174.4 677.9L1170.7 684.7L1164 684.5L1161.7 680.4L1158.7 686L1155.4 686L1155.4 687.2L1150.3 687L1153.3 691.9L1151.7 694.8L1144 694.6L1148 701.2L1144 707.8L1151.7 707.7L1155.4 714.4L1157 711.4L1157.6 711.4L1156.7 712.9L1160.5 718.7L1160 720.2L1155.4 720L1157.7 723.9L1156.7 725.6L1158.8 725.6L1159.4 726.6L1155.4 733.2L1163.1 733L1166.8 739.8L1170.5 733L1178.2 733.2L1174.2 726.6L1174.9 725.5L1179.5 725.6L1177.3 721.6L1185.9 721.6L1185.9 711.4L1200.8 711.4L1201.1 711.9L1204.8 705.1L1217.7 705.1L1221.4 711.9L1225.1 705.1L1232.8 705.3L1231.9 703.8L1235.4 703.8L1235.4 692.4L1236.8 692.5L1239.2 696.3L1239.2 701.2L1236.6 705.3L1239.2 705.2L1239.2 706.3L1245 706.3L1248.1 711.9L1251.1 706.3L1262 706.3L1262 691.1L1250.6 691.1L1250.6 690.2L1248.1 685.5L1245 691.1L1242.1 691.1L1239 686L1240.6 683.5L1244.3 690.3L1248 683.5L1255.5 683.5L1254 680.9L1261.6 680.9L1263 683.5L1263.6 683.5L1265 680.9L1278.2 680.9L1279.8 683.6L1279.8 688.5L1277.5 692.3L1270.9 692.1L1275 698.7L1273.4 701.2L1269.6 701.2L1269.6 707.4L1268.4 707.3L1269.6 709.4L1269.6 715.2L1262 715L1266.1 721.6L1262 728.2L1269.8 728L1273.5 734.8L1277.2 728L1286.3 728L1290 734.8L1293.7 728L1301.4 728.2L1298.9 724.1L1305.2 724.1L1305.2 720.5L1306.5 720.5L1305.2 718.5L1305.2 712.8L1306.6 712.7L1310.3 719.5L1314 712.7L1321.7 712.9L1317.9 706.7L1317.9 706L1319.1 703.9L1324.2 704L1320.2 697.4L1324.2 690.8L1317.9 691L1317.9 690L1321.7 690.1L1317.9 683.8L1317.9 683.1L1321.7 676.9L1314 677.1L1310.3 670.3L1306.6 677.1L1298.8 676.9L1301.3 680.9L1299.2 680.9L1300.1 679.4L1292.4 679.6L1288.7 672.8L1285 679.6L1279.8 679.5L1279.8 668.5L1281.1 668.5L1279.8 666.4L1279.8 662.4L1280.1 661.9L1286.2 661.9L1286.2 655.7L1291.2 655.8L1287.2 649.2L1291.2 642.6L1286.2 642.7L1286.2 632.7L1270.5 632.7L1272.2 629.9L1264.5 630.1L1260.8 623.3L1259.2 626.1L1253 626.3L1249.3 619.5L1245.6 626.3L1237.9 626.1L1241.9 632.7L1235.8 632.7L1234.1 629.7L1232.4 632.7L1229.2 632.7L1229 628L1227.6 628L1230.3 623.6L1228.9 623.6L1230.3 621.3L1226.5 621.4L1226.5 618.2L1230.2 611.4L1237.9 611.6L1236.2 608.8L1241.7 608.8L1241.7 602.7L1245.5 602.8L1242.9 598.5L1244.1 596.2L1251.9 596.4L1247.8 589.8L1251.9 583.2L1249.2 583.3L1250.5 581L1258.2 581.2L1255.9 577.4L1258.1 573.4L1265.8 573.6L1261.8 567L1265.8 560.4L1261.8 560.5L1258 554.3L1262 547.7L1259.2 547.7L1255.5 541.6L1259.2 535.4L1262 535.5L1258 528.9L1262 522.3L1254.3 522.5L1253 520.2L1255.7 520.2L1252 514.3L1253 512.4L1260.8 512.6L1256.7 506L1260.8 499.4L1253 499.6L1251.9 497.5L1251.9 495.2L1253.1 493.1L1251.2 493.1L1251.8 492.1L1259.5 492.3L1255.5 485.7L1259.5 479.1L1251.8 479.3L1248.1 472.5L1244.4 479.3L1236.6 479.1L1240.7 485.7L1236.6 492.3L1238.6 492.3L1238 493.3L1230.3 493.1L1234.3 499.7L1230.3 506.3L1237.9 506.1L1237.9 507.2L1232.8 507L1236.9 513.6L1233.1 519.9L1227.7 519.7L1231 525L1230.2 525L1226.5 518.2L1224.2 522.4L1221.3 522.5L1217.6 515.7L1213.9 522.5L1206.2 522.3L1210.2 528.9L1206.2 535.5L1213.9 535.3L1217.6 542.1L1219.9 537.9L1222.8 537.8L1226.5 544.6zM1235.5 532.7L1237.9 538L1234.7 532.7zM1246.8 654.3L1234.1 654.3L1234.1 649.2L1246.8 649.2zM1144.7 644.2L1148.4 651L1152.1 644.2L1159.8 644.4L1155.8 637.8L1159.8 631.2L1152.1 631.4L1148.4 624.6L1144.7 631.4L1137 631.2L1141 637.8L1137 644.4zM1192.3 672.1L1196 678.9L1199.7 672.1L1207.4 672.3L1203.4 665.7L1207.4 659.1L1199.7 659.3L1196 652.5L1192.3 659.3L1184.6 659.1L1188.6 665.7L1184.6 672.3zM1141.5 755.9L1145.2 762.7L1148.9 755.9L1156.7 756.1L1152.6 749.5L1156.7 742.9L1148.9 743.1L1145.2 736.3L1141.5 743.1L1133.8 742.9L1137.8 749.5L1133.8 756.1zM1342.1 757.2L1345.8 764L1349.5 757.2L1357.2 757.4L1353.2 750.8L1357.2 744.2L1349.5 744.4L1345.8 737.6L1342.1 744.4L1334.4 744.2L1338.4 750.8L1334.4 757.4zM1256.6 877L1252.5 870.4L1256.6 863.8L1248.8 864L1245.1 857.2L1241.4 864L1233.7 863.8L1237.7 870.4L1233.7 877L1241.4 876.8L1245.1 883.6L1248.8 876.8zM1362.1 574.8L1362.3 575.1L1364.9 574.8L1363.6 572.7L1366 568.3L1373.8 568.5L1369.7 561.9L1373.8 555.3L1371.7 555.3L1373.6 551.8L1376.7 551.8L1377.6 553.5L1378.4 551.9L1381.4 552L1379.8 549.4L1381.3 546.7L1389 546.9L1384.9 540.3L1389 533.7L1381.3 533.9L1377.6 527.1L1373.8 533.9L1372.3 531.4L1376.3 524.8L1368.6 525L1364.9 518.2L1361.2 525L1353.4 524.8L1357.5 531.4L1353.4 538L1361.2 537.8L1361.7 538.9L1358.5 538.8L1362.5 545.4L1358.5 552L1360.6 551.9L1358.6 555.5L1353.6 555.3L1353.4 555L1350.9 555.3L1352.2 557.4L1349.7 561.8L1342 561.6L1346 568.2L1342 574.8L1349.7 574.6L1353.4 581.4L1357.1 574.6zM1368.2 555.4L1366 555.5L1364 551.8L1366.2 551.8zM1467.4 564.5L1471.1 571.3L1474.8 564.5L1482.5 564.7L1478.5 558.1L1482.5 551.5L1474.8 551.7L1471.1 544.9L1467.4 551.7L1459.7 551.5L1463.7 558.1L1459.7 564.7zM1396.6 546.1L1392.9 552.9L1385.2 552.7L1389.2 559.3L1385.2 565.9L1392.9 565.7L1396.6 572.5L1400.3 565.7L1408 565.9L1404 559.3L1408 552.7L1400.3 552.9zM1429 565.7L1433 559.1L1425.3 559.3L1421.6 552.5L1417.9 559.3L1410.2 559.1L1414.2 565.7L1410.2 572.3L1416.5 572.1L1418 574.6L1414 581.2L1421.7 581L1425.4 587.8L1429.1 581L1436.8 581.2L1432.8 574.6L1436.8 568L1430.5 568.1z"/>
<path d="M1434.9 596.4L1442.6 596.2L1446.3 603L1450 596.2L1457.8 596.4L1453.7 589.8L1457.8 583.2L1450 583.4L1446.3 576.6L1442.6 583.4L1434.9 583.2L1438.9 589.8zM1354.8 636.6L1356 638.8L1353.4 643.1L1358.3 643L1358.5 643.4L1358.7 643L1361.2 642.9L1364.9 649.7L1368.6 642.9L1376.3 643.1L1373 637.8L1373.6 636.7L1380.2 636.6L1383.9 643.4L1387.6 636.6L1391.1 636.6L1394.1 642.1L1395.6 639.3L1396.6 641.1L1399.3 636.6L1402.9 643.4L1406.6 636.6L1414.4 636.8L1410.3 630.2L1414.4 623.6L1406.6 623.8L1408 621.3L1405.3 621.4L1402.9 617L1400.3 621.5L1396.6 614.7L1395.3 617L1395.3 615.3L1397.6 611.5L1401.7 611.6L1397.6 605L1401.7 598.4L1398.9 598.5L1395.3 592.7L1395.3 592L1399.1 585.7L1395.3 585.8L1395.3 584.7L1390.7 584.7L1389.1 581.7L1392.8 575.6L1385.1 575.8L1381.4 569L1377.7 575.8L1369.9 575.6L1372.9 580.5L1371.3 583.4L1363.6 583.2L1367.6 589.8L1363.6 596.4L1366.4 596.3L1368.7 600.1L1368.7 604.9L1366.4 608.7L1363.6 608.6L1367.6 615.2L1363.8 621.4L1360.9 621.3L1358.5 617L1354.8 623.8L1347.1 623.6L1351.1 630.2L1347.1 636.8zM1435.3 651.7L1439.4 645.1L1431.6 645.3L1427.9 638.5L1424.2 645.3L1416.5 645.1L1420.5 651.7L1416.5 658.3L1424.2 658.1L1427.9 664.9L1431.6 658.1L1439.4 658.3zM1502.8 650.2L1495.1 650.4L1491.4 643.6L1487.7 650.4L1480 650.2L1484 656.8L1480 663.4L1487.7 663.2L1491.4 670L1495.1 663.2L1502.8 663.4L1498.8 656.8zM1533.3 648.7L1532.4 650.3L1529.5 650.2L1531.1 652.8L1529.6 655.5L1521.9 655.3L1525.9 661.9L1521.9 668.5L1529.6 668.3L1533.3 675.1L1537 668.3L1540 668.4L1540.9 670L1541.8 668.4L1544.7 668.5L1543.1 665.9L1544.6 663.2L1552.3 663.4L1548.3 656.8L1552.3 650.2L1544.6 650.4L1540.9 643.6L1537.2 650.4L1534.2 650.3zM1431.7 672.8L1428 679.6L1419.9 679.4L1419 677.9L1418.2 679.5L1413 679.6L1409.3 672.8L1405.6 679.6L1397.9 679.4L1401.9 686L1397.9 692.6L1405.3 692.4L1406.8 694.9L1406.8 702.6L1405.1 705.3L1406.8 705.3L1406.8 716.3L1401.6 716.4L1397.9 709.6L1394.2 716.4L1386.4 716.2L1390.5 722.8L1386.4 729.4L1394.2 729.2L1397.9 736L1401.6 729.2L1409.3 729.4L1405.3 722.8L1407.6 719L1415 719L1415 721.6L1418.7 721.6L1417.8 723.1L1425.5 722.9L1429.2 729.7L1432.9 722.9L1440.6 723.1L1439.7 721.6L1446.6 721.6L1448.2 724.6L1451.9 717.8L1459.7 718L1455.6 711.4L1457.2 708.9L1469.5 708.9L1469.8 709.4L1470.1 708.9L1473.6 708.9L1473.6 702.6L1481.3 702.8L1477.2 696.2L1481.3 689.6L1473.6 689.8L1473.6 681.5L1474.9 679.4L1467.2 679.6L1465.1 675.9L1470.1 675.9L1471.1 677.6L1472.1 675.9L1478.7 675.9L1478.7 670.9L1482.5 671L1478.7 664.8L1478.7 664.1L1482.5 657.8L1478.7 657.9L1478.7 653L1475.7 653L1477.4 650.2L1469.7 650.4L1466 643.6L1462.3 650.4L1454.6 650.2L1456.3 653L1440.6 653L1440.6 661.7L1436.8 661.6L1440.6 667.9L1440.6 668.6L1436.8 674.8L1440.6 674.7L1440.6 675.9L1444.2 675.9L1442.2 679.4L1435.4 679.6zM1446.8 679.7L1444.7 675.9L1445.2 675.9L1447.3 679.7zM1457.1 677.9L1456.2 679.5L1449.2 679.7L1451.3 675.9L1461.8 675.9L1459.8 679.6L1458 679.6zM1499 736.5L1491.3 736.7L1487.6 729.9L1483.9 736.7L1476.2 736.5L1480.2 743.1L1476.2 749.7L1483.9 749.5L1487.6 756.3L1491.3 749.5L1499 749.7L1495 743.1zM1538.4 740.4L1530.6 740.6L1527 733.8L1523.3 740.6L1515.5 740.4L1519.6 747L1515.5 753.6L1523.3 753.4L1527 760.2L1530.6 753.4L1538.4 753.6L1534.3 747zM1485.1 802.6L1477.3 802.8L1473.6 796L1469.9 802.8L1462.2 802.6L1466.2 809.2L1462.2 815.8L1469.9 815.6L1473.6 822.4L1477.3 815.6L1485.1 815.8L1481 809.2zM1410.7 857.8L1414.7 851.2L1407 851.3L1403.3 844.6L1399.6 851.3L1391.8 851.2L1395.9 857.8L1391.8 864.4L1399.6 864.2L1403.3 871L1407 864.2L1414.7 864.4z"/>
</g>
<g id="buoy-correct" class="mr" fill-rule="evenodd">
<path d="M1296.1 200.7L1276.3 200.7L1276.3 220.5L1296.1 220.5zM1374.3 324.5L1374.3 304.7L1354.5 304.7L1354.5 324.5zM1130.9 342.3L1150.7 342.3L1150.7 322.5L1130.9 322.5zM1313.4 357.1L1293.6 357.1L1293.6 376.9L1313.4 376.9zM1102.8 424.3L1102.8 404.5L1085.9 404.5L1085.9 392.2L1066.1 392.2L1066.1 396.5L1059 396.5L1059 416.3L1078.8 416.3L1078.8 412L1083 412L1083 424.3zM1122.3 463.4L1102.5 463.4L1102.5 483.2L1122.3 483.2zM1126.7 509.4L1126.7 489.6L1106.9 489.6L1106.9 509.4zM1270.7 493.6L1270.7 486L1250.9 486L1250.9 505.8L1254.7 505.8L1254.7 521L1269.9 521L1269.9 522.3L1289.7 522.3L1289.7 505.8L1292.9 505.8L1292.9 486L1273.1 486L1273.1 493.6zM998.5 502.6L978.7 502.6L978.7 522.4L998.5 522.4zM1230.7 502.7L1210.9 502.7L1210.9 522.5L1230.7 522.5zM1204 516.4L1192.2 516.4L1192.2 508.8L1172.4 508.8L1172.4 528.6L1182.9 528.6L1182.9 547.7L1202.7 547.7L1202.7 536.2L1204 536.2zM1277 552.7L1278.8 552.7L1278.8 561.6L1288.9 561.6L1288.9 571.8L1308.7 571.8L1308.7 561.6L1313.8 561.6L1313.8 529.1L1294 529.1L1294 541.8L1293.5 541.8L1293.5 526.6L1255.3 526.6L1255.3 546.4L1257.2 546.4L1257.2 557.8L1277 557.8zM1386.7 531.7L1386.7 549.4L1368.9 549.4L1368.9 569.2L1371.5 569.2L1371.5 580.7L1391.3 580.7L1391.3 560.9L1388.7 560.9L1388.7 551.5L1406.5 551.5L1406.5 531.7zM1225.5 539.9L1225.5 548.2L1225 548.2L1225 536.1L1205.2 536.1L1205.2 555.9L1209 555.9L1209 570.5L1219.1 570.5L1219.1 579.4L1238.9 579.4L1238.9 559.7L1245.3 559.7L1245.3 539.9zM1266.1 570.4L1266.1 576.1L1265.5 576.1L1265.5 595.9L1285.3 595.9L1285.3 590.2L1285.9 590.2L1285.9 570.4zM1282.6 622.6L1302.4 622.6L1302.4 602.8L1282.6 602.8zM1170.9 651.5L1190.7 651.5L1190.7 645.1L1208.5 645.1L1208.5 625.3L1197 625.3L1197 622.8L1177.2 622.8L1177.2 631.7L1170.9 631.7zM1182.6 689.6L1202.4 689.6L1202.4 669.8L1182.6 669.8zM1376.7 689.6L1376.7 669.8L1356.9 669.8L1356.9 689.6zM1278.4 921.4L1278.4 941.2L1298.2 941.2L1298.2 921.4zM1491.5 213.7L1511.3 213.7L1511.3 212L1514.7 212L1514.7 192.2L1494.9 192.2L1494.9 193.9L1491.5 193.9zM1480.1 236.1L1499.9 236.1L1499.9 216.3L1480.1 216.3zM1467.1 226.9L1447.3 226.9L1447.3 246.7L1467.1 246.7zM1480.5 259.9L1480.5 275.1L1469.5 275.1L1469.5 294.9L1488.9 294.9L1488.9 298.3L1490.6 298.3L1490.6 303.4L1510.4 303.4L1510.4 288.1L1524 288.1L1524 268.3L1517.2 268.3L1517.2 263.3L1500.3 263.3L1500.3 259.9zM1494.6 283L1494.6 279.9L1497.1 279.9L1497.1 283zM1401.3 327.9L1401.3 308.1L1381.5 308.1L1381.5 314.9L1380.7 314.9L1380.7 334.7L1400.5 334.7L1400.5 327.9zM1220 424.3L1237.5 424.3L1237.5 431L1445.6 431L1445.6 411.9L1460.8 411.9L1460.8 431L1597.3 431L1597.3 407.4L1614.8 407.4L1614.8 387.6L1595 387.6L1595 406.8L1593.6 406.8L1593.3 392.7L1573.5 392.7L1573.3 408.5L1561.4 408.5L1561.4 417.3L1536.9 417.3L1536.9 400.9L1513.7 400.9L1513.8 364.3L1520.2 364.3L1520.2 344.5L1500.4 344.5L1500.4 363.1L1494 363.1L1493.8 381.4L1486.7 381.4L1486.7 355.7L1495.2 355.8L1495.1 335.8L1506.6 335.8L1506.6 303.6L1467 303.6L1466.9 310.6L1452.5 310.7L1452.5 326.4L1449.5 326.4L1449.5 322.8L1429.7 322.8L1429.7 326.4L1424.4 326.4L1424.4 318.5L1404.5 318.5L1404.5 340.8L1402.4 340.8L1402.4 346.9L1382.5 346.9L1382.4 354.4L1368.4 354.4L1368.4 342.4L1348.6 342.4L1348.6 344.5L1329.1 344.5L1329.1 364.3L1348.9 364.3L1348.9 362.2L1350 362.2L1350 375.5L1326.3 375.5L1326.3 389L1288.9 389L1288.9 372.4L1269.1 372.4L1269.1 392.2L1288.3 392.2L1288.3 423.7L1276.4 423.7L1276.4 401.7L1269.4 401.7L1269.4 401.1L1249.6 401.1L1249.4 413.6L1239.8 413.6L1239.8 404.5L1220 404.5zM1442.2 370.4L1442.2 356L1451.5 356L1451.5 388.2L1442.2 388.2L1442.2 377.2L1426.1 377.2L1426.1 370.4zM1388.9 372.1L1392.3 372.1L1392.3 381.4L1388.9 381.4zM1419.3 378.9L1422.7 378.9L1422.7 382.3L1419.3 382.3zM1472.6 388.2L1471.8 388.2L1471.8 381.4L1485.3 381.4L1485.3 388.2L1478.5 388.2L1478.5 393.3L1472.6 393.3zM1384.7 398.3L1389.7 398.3L1389.7 406.8L1384.7 406.8zM1355.9 420.3L1355.9 413.6L1361 413.6L1361 420.3zM1488.7 428.8L1488.7 423.7L1495.5 423.7L1495.5 428.8zM1328.3 516.4L1328.3 524.7L1318.1 524.7L1318.1 544.5L1323.2 544.5L1323.2 559.6L1317.5 559.6L1317.1 591.5L1335.9 591.5L1335.9 595.1L1328.3 595.1L1328.3 614.9L1335.9 614.9L1335.9 626.4L1365.9 626.4L1365.9 606.6L1363.3 606.6L1363.3 599.1L1365.2 599.1L1365.2 579.3L1345.4 579.3L1345.4 588.8L1336.9 588.8L1337.3 568L1355.7 568L1355.7 557.8L1364.6 557.8L1364.6 538L1355.7 538L1355.7 528.9L1358.5 528.9L1358.5 508.6L1415 508.6L1403.2 508.8L1403.2 528.6L1415 528.6L1415 555.5L1430.5 555.5L1430.5 546.6L1444.4 546.6L1444.4 555.5L1464.7 555.5L1464.7 545.4L1460.9 545.4L1460.9 533.9L1476.2 533.9L1476.2 528.9L1488.9 528.9L1488.9 530.8L1500.3 530.8L1500.3 536.5L1514.3 536.5L1514.3 523.8L1517.4 523.8L1517.4 528.9L1534.6 528.9L1534.6 531.4L1558.9 531.4L1541.2 531.7L1541.2 551.5L1552.6 551.5L1552.6 557.8L1562.8 557.8L1562.8 560.3L1582.6 560.3L1582.6 546.4L1596.5 546.4L1596.5 540.7L1597.8 540.7L1597.8 520.9L1578 520.9L1577.7 530.8L1556.8 530.8L1556.8 523.8L1562.5 523.8L1562.5 518.5L1580 518.5L1580 513.4L1581.9 513.4L1581.9 493.6L1574.9 493.6L1574.9 486L1555.1 486L1555.1 505.8L1560.2 505.8L1560.2 511.1L1530.8 511.1L1530.8 504.7L1519.3 504.7L1519.3 495.9L1539.6 495.9L1539.6 476.8L1534.6 476.8L1534.6 456.5L1539.6 456.5L1539.6 446.3L1551.7 446.3L1551.7 440L1574.9 440L1574.9 431L1468.4 431L1468.4 440L1459 440L1459 450.2L1445.1 450.2L1445.6 431L1252.7 431L1252.5 443.8L1305.2 443.8L1305.2 453.3L1345.8 453.3L1345.8 447.4L1364.9 447.4L1364.9 452.7L1348.4 452.7L1348.4 508.6L1338.5 508.8L1338.5 516.4zM1378.8 503.5L1378.8 488.2L1415 488.2L1415 503.5zM1344.8 548.2L1343 548.2L1343 546.4L1344.8 546.4zM1381.4 455.2L1387.7 455.2L1387.7 465.4L1381.4 465.4zM1512.4 439.5L1512.4 432.7L1525.9 432.7L1525.9 439.5zM1419 464.1L1423.5 464.1L1423.5 477.5L1429.8 477.5L1429.8 480.6L1419 480.6zM1478.7 494L1473.6 494L1473.6 487.6L1486.3 487.6L1486.3 490.1L1478.7 490.1zM1506.6 464.1L1501.6 464.1L1501.6 461.6L1514.3 461.6L1514.3 464.1L1508.2 464.1L1508.2 468.2L1506.6 468.2zM1500.3 540.5L1500.3 541.6L1498 541.6L1498 550.7L1497.4 550.7L1497.4 570.5L1517.2 570.5L1517.2 561.6L1526.1 561.6L1526.1 541.8L1517.8 541.8L1517.8 540.5z"/>
<path d="M1397.5 590.2L1417.3 590.2L1417.3 570.4L1397.5 570.4zM1471.5 633.3L1471.5 613.5L1460.7 613.5L1460.7 602.1L1440.9 602.1L1440.9 621.9L1451.7 621.9L1451.7 633.3zM1543.2 611L1523.4 611L1523.4 630.8L1543.2 630.8zM1452.4 661.6L1458.8 661.6L1458.8 659.1L1464.5 659.1L1464.5 639.3L1444.7 639.3L1444.7 641.8L1439 641.8L1439 653.3L1432.6 653.3L1432.6 673.1L1452.4 673.1zM1521.6 678.8L1536.9 678.8L1536.9 659L1517.1 659L1517.1 671L1515.3 671L1515 637.4L1495.2 637.4L1495.2 652L1486.6 652L1486.6 663.4L1479 663.4L1479 692.1L1491.7 692.1L1491.7 701L1511.5 701L1511.5 690.8L1521.6 690.8zM1501.8 681.2L1498.8 681.2L1498.8 676.9L1501.8 676.9zM1404 707.3L1404 687.5L1384.2 687.5L1384.2 695.2L1376.5 695.2L1376.5 715L1396.3 715L1396.3 707.3zM1465.8 744.2L1465.8 737.8L1481 737.8L1481 736.5L1497.5 736.5L1497.5 716.7L1484.8 716.7L1484.8 704L1465 704L1465 706.6L1451 706.6L1451 719.3L1444.7 719.3L1444.7 739.1L1446 739.1L1446 744.2zM1403.8 769.5L1423.6 769.5L1423.6 749.7L1403.8 749.7zM1430.7 801.8L1430.7 821.6L1450.5 821.6L1450.5 801.8zM1466.9 884.6L1483.9 884.6L1483.9 903.2L1502.5 903.2L1502.5 903.7L1499.1 903.7L1499.1 923.5L1510.9 923.5L1510.9 927.7L1530.7 927.7L1530.7 907.9L1522.3 907.9L1522.3 890.1L1512.1 890.1L1512.1 878.3L1508.7 878.3L1508.7 866.5L1498.6 866.5L1498.6 854.6L1480.3 854.6L1480.3 838.9L1460.5 838.9L1460.5 858.7L1478.8 858.7L1478.8 864.8L1466.9 864.8zM1488.9 874.4L1488.9 883.4L1486.7 883.4L1486.7 874.4zM1510.3 1117.4L1530.1 1117.4L1530.1 1097.6L1510.3 1097.6zM1491 1218.9L1491 1229L1510.8 1229L1510.8 1209.2L1499.6 1209.2L1499.6 1199.1L1479.8 1199.1L1479.8 1218.9zM1538.8 250.9L1554.1 250.9L1554.1 253L1573.9 253L1573.9 242.5L1578.4 242.5L1578.4 222.7L1558.6 222.7L1558.6 231.1L1538.8 231.1zM1640.8 235.9L1640.8 255.7L1660.6 255.7L1660.6 247L1664.7 247L1664.7 227.2L1644.9 227.2L1644.9 235.9zM1614.8 264L1614.8 244.2L1595 244.2L1595 264zM1635.8 337.4L1635.8 315.5L1623.1 315.5L1623.1 307.8L1630.7 307.8L1630.7 288L1621.4 288L1621.4 271.7L1611.7 271.7L1611.7 266.8L1591.9 266.8L1591.9 270.2L1585.2 270.2L1585.2 290L1601.6 290L1601.6 291.5L1610.9 291.5L1610.9 301L1603.3 301L1603.3 308.1L1587 308.1L1587 314L1567.6 314L1567.6 333.8L1568.2 333.8L1568.2 337.4L1578.3 337.4L1578.3 354.4L1590.2 354.4L1590.2 358.1L1601.9 358.1L1601.9 367.6L1621.7 367.6L1621.7 354.4L1622.9 354.4L1622.9 361.7L1642.7 361.7L1642.7 341.9L1624 341.9L1624 337.4zM1514.8 370.3L1514.8 390.1L1534.6 390.1L1534.6 381.2L1545.1 381.2L1545.1 396.4L1564.9 396.4L1564.9 381.2L1567.1 381.2L1567.1 361.4L1534.6 361.4L1534.6 370.3zM1543.7 456.8L1543.7 476.6L1557.7 476.6L1557.7 481.6L1577.5 481.6L1577.5 468.9L1595.2 468.9L1595.2 452.2L1612.8 452.2L1612.8 432.4L1593 432.4L1593 449.1L1575.4 449.1L1575.4 461.8L1573.7 461.8L1573.7 453L1553.9 453L1553.9 456.8zM1619.4 490.5L1628.3 490.5L1628.3 470.7L1608.5 470.7L1608.5 478.3L1599.6 478.3L1599.6 498.1L1619.4 498.1zM1645.4 522.9L1645.4 494.2L1625.6 494.2L1625.6 522.9zM1638.4 548.3L1638.4 528.5L1618.6 528.5L1618.6 548.3zM1550.2 584.3L1550.2 568.5L1530.4 568.5L1530.4 588.3L1532.3 588.3L1532.3 604.1L1552.1 604.1L1552.1 584.3zM1673.3 602.5L1653.5 602.5L1653.5 622.3L1673.3 622.3zM1655.5 648.2L1655.5 668L1675.3 668L1675.3 648.2zM1561 668.5L1561 665.3L1541.2 665.3L1541.2 685.1L1545 685.1L1545 688.3L1564.8 688.3L1564.8 668.5zM1569.2 711.1L1569.2 691.3L1549.4 691.3L1549.4 711.1zM1524.7 687.5L1524.9 720L1544.7 720L1544.5 687.5zM1713.5 699.6L1705.1 699.6L1705.1 691.9L1703.8 691.9L1703.8 677.6L1693.4 677.6L1693.4 668.2L1673.6 668.2L1673.6 669.8L1667.2 669.8L1667.2 689.6L1680.8 689.6L1680.8 706.5L1685.3 706.5L1685.3 716.5L1683.4 716.5L1683.4 722.9L1680.5 722.9L1680.5 713.9L1675.3 713.9L1675.3 703.3L1655.5 703.3L1655.5 723.1L1660.7 723.1L1660.7 733.7L1666.5 733.7L1666.5 742.7L1673 742.7L1673 749.9L1692.8 749.9L1692.8 747.3L1700.6 747.3L1700.6 745.3L1710.3 745.3L1710.3 736.3L1712.2 736.3L1712.2 724L1721.3 724L1721.3 704.2L1713.5 704.2zM1604.3 812.7L1584.5 812.7L1584.5 832.5L1604.3 832.5zM1762.5 923.1L1762.5 942.9L1782.3 942.9L1782.3 923.1z"/>
</g>
<g id="buoy-fault-front" class="mg" fill-rule="evenodd">
<path d="M1387.6 485.6L1383.9 478.9L1380.2 485.6L1372.5 485.5L1376 491.2L1375 491.2L1376 492.8L1372.5 498.7L1378.6 498.5L1375 504.4L1382.7 504.2L1386.4 511L1389 506.2L1392.9 506.1L1396.6 512.9L1400.3 506.1L1405.1 506.2L1408 511.6L1411.7 504.8L1419.5 505L1415.4 498.4L1419.5 491.8L1411.7 492L1408 485.2L1404.3 492L1399.5 491.9L1396.6 486.5L1394 491.3L1391.7 491.3L1395.3 485.5z"/>
</g>
<path id="buoy-correct-veiled" fill="#ffd060" opacity=".5" d="M1204 528.5L1204 548.3L1191.1 548.3zM1365.9 606.6L1365.9 626.4L1353 626.4zM1202.4 669.8L1202.4 689.6L1189.5 689.6zM1423.6 749.7L1423.6 769.5L1410.8 769.5zM1515 637.4L1515 657.2L1502.1 657.2zM1521.6 681.2L1521.6 701L1508.7 701zM1498.8 718L1498.8 737.8L1485.9 737.8zM1423.9 749.7L1423.9 769.5L1411 769.5zM1514.7 637.9L1514.7 657.7L1501.8 657.7zM1405.2 692.6L1405.2 712.4L1392.4 712.4z"/>
<g id="box-front">
<line class="bx" x1="305.6" y1="417.4" x2="1705" y2="532"/>
<line class="bx" x1="1705" y1="532" x2="2162" y2="181.2"/>
<line class="bv" x1="1705" y1="532" x2="1705" y2="1345"/>
<line class="ax" x1="305.6" y1="1230.4" x2="305.6" y2="417.4"/>
<line class="ax" x1="305.6" y1="1230.4" x2="1705" y2="1345"/>
<line class="ax" x1="1705" y1="1345" x2="2162" y2="994.2"/>
</g>
<g id="ticks">
<line class="tk" x1="340.3" y1="1233.2" x2="312.9" y2="1254.2"/>
<line class="tk" x1="783.9" y1="1269.6" x2="756.5" y2="1290.6"/>
<line class="tk" x1="1227.4" y1="1305.9" x2="1200.1" y2="1326.9"/>
<line class="tk" x1="1671" y1="1342.2" x2="1643.6" y2="1363.2"/>
<line class="tk" x1="2149.6" y1="1003.7" x2="2184" y2="1006.5"/>
<line class="tk" x1="2011.4" y1="1109.8" x2="2045.8" y2="1112.6"/>
<line class="tk" x1="1873.2" y1="1215.9" x2="1907.6" y2="1218.7"/>
<line class="tk" x1="1735" y1="1322" x2="1769.4" y2="1324.8"/>
<line class="tk" x1="305.6" y1="481.6" x2="269.6" y2="479.1"/>
<line class="tk" x1="305.6" y1="623.2" x2="269.6" y2="620.7"/>
<line class="tk" x1="305.6" y1="764.8" x2="269.6" y2="762.3"/>
<line class="tk" x1="305.6" y1="906.5" x2="269.6" y2="904"/>
<line class="tk" x1="305.6" y1="1048.1" x2="269.6" y2="1045.6"/>
<line class="tk" x1="305.6" y1="1189.7" x2="269.6" y2="1187.2"/>
</g>
<g id="tick-labels">
<text class="tl" x="157" y="497" font-size="72.5">0.2</text>
<text class="tl" x="211" y="638.6" font-size="72.5">0</text>
<text class="tl" x="157" y="780.2" font-size="72.5"><tspan x="105.5" y="789.8" font-size="84" fill="#505050">−</tspan><tspan x="157" y="780.2">0.2</tspan></text>
<text class="tl" x="157" y="921.8" font-size="72.5"><tspan x="105.5" y="931.4" font-size="84" fill="#505050">−</tspan><tspan x="157" y="921.8">0.4</tspan></text>
<text class="tl" x="157" y="1063.4" font-size="72.5"><tspan x="105.5" y="1073" font-size="84" fill="#505050">−</tspan><tspan x="157" y="1063.4">0.6</tspan></text>
<text class="tl" x="157" y="1205" font-size="72.5"><tspan x="105.5" y="1214.6" font-size="84" fill="#505050">−</tspan><tspan x="157" y="1205">0.8</tspan></text>
<text class="tl" x="260.3" y="1328.4" font-size="72.5">0</text>
<text class="tl" x="649" y="1366.2" font-size="72.5"><tspan x="598" y="1375.8" font-size="84" fill="#505050">−</tspan><tspan x="649" y="1366.2">0.5</tspan></text>
<text class="tl" x="1147" y="1402" font-size="72.5"><tspan x="1096.5" y="1411.6" font-size="84" fill="#505050">−</tspan><tspan x="1147" y="1402">1</tspan></text>
<text class="tl" x="1535.5" y="1439.2" font-size="72.5"><tspan x="1485" y="1448.8" font-size="84" fill="#505050">−</tspan><tspan x="1535.5" y="1439.2">1.5</tspan></text>
<text class="tl" x="2262" y="1070" font-size="72.5"><tspan x="2211" y="1079.6" font-size="84" fill="#505050">−</tspan><tspan x="2262" y="1070">0.5</tspan></text>
<text class="tl" x="2068.5" y="1177" font-size="72.5">0</text>
<text class="tl" x="1931" y="1282.7" font-size="72.5">0.5</text>
<text class="tl" x="1790.5" y="1388.5" font-size="72.5">1</text>
</g>
<g id="axis-labels">
<text class="al" x="895" y="1507.7" font-size="75.5">AR(1)</text>
<text class="al" x="2084" y="1448.8" font-size="75.5">AR(2)</text>
<text class="al" x="0" y="0" font-size="75.5" transform="translate(76.2 923.5) rotate(-90)">AR(3)</text>
</g>
<g id="legend">
<rect x="125.2" y="15.8" width="1074.4" height="223" fill="#fff" stroke="#3a3a3a" stroke-width="2.2"/>
<rect class="mb" x="190.8" y="46.9" width="20" height="19.7"/>
<rect class="mr" x="190.8" y="118.5" width="20" height="19.7"/>
<path fill="#0aff0a" d="M202 184.4L205.9 191.9L214.4 191.5L209.9 198.7L214.4 205.8L205.9 205.5L202 213L198.1 205.5L189.6 205.8L194.1 198.7L189.6 191.5L198.1 191.9z"/>
<text class="lg" x="276" y="78.1" font-size="62.3" textLength="865.4" lengthAdjust="spacingAndGlyphs">Training convexhull of ship sample</text>
<text class="lg" x="276" y="149.7" font-size="62.3" textLength="910.6" lengthAdjust="spacingAndGlyphs">Correct identification of buoy sample</text>
<text class="lg" x="276" y="220.7" font-size="62.3" textLength="854.4" lengthAdjust="spacingAndGlyphs">Fault identification of buoy sample</text>
</g>
</svg>
</body>
</html>
